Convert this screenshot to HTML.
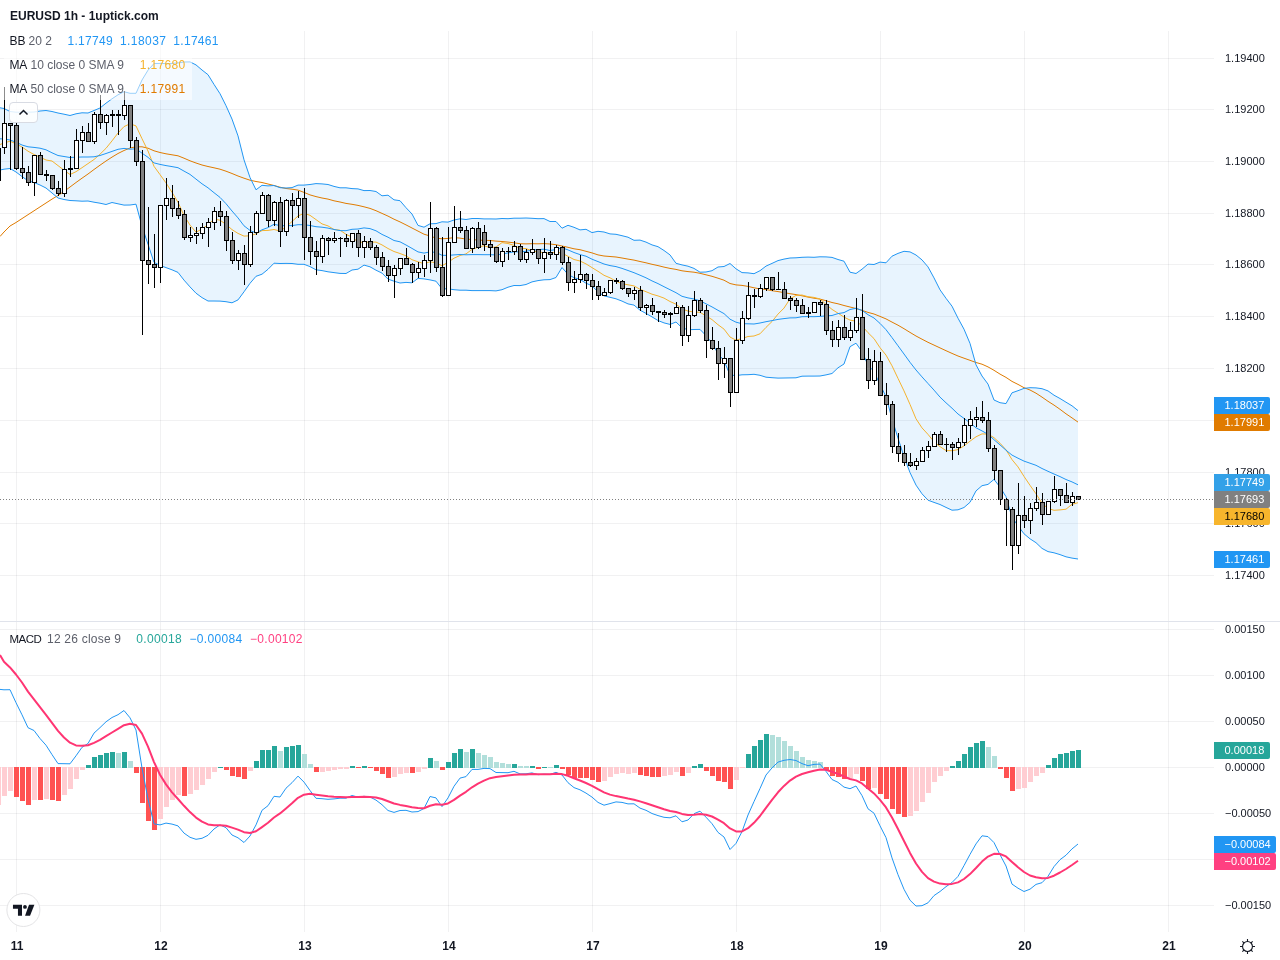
<!DOCTYPE html>
<html><head><meta charset="utf-8"><title>EURUSD 1h</title>
<style>
html,body{margin:0;padding:0;background:#fff;}
body{width:1280px;height:960px;position:relative;overflow:hidden;font-family:"Liberation Sans",sans-serif;color:#131722;}
.axl,.tl,.lab,.lg,#title{will-change:transform}
.axl{position:absolute;left:1224.5px;font-size:11px;line-height:14px;height:14px;color:#131722;white-space:nowrap;}
.lab{position:absolute;left:1214px;height:17px;border-radius:0 2px 2px 0;font-size:11px;line-height:17px;box-sizing:border-box;padding-left:10.5px;white-space:nowrap;}
.tl{position:absolute;top:938px;width:40px;margin-left:-20px;text-align:center;font-size:12px;font-weight:bold;line-height:16px;color:#131722}
.lg{position:absolute;left:4px;height:24px;line-height:24px;font-size:12px;white-space:nowrap;color:#5d606b}
.lg b{font-weight:normal;color:#131722}
.lg span{margin-left:0}
</style></head><body>
<svg width="1280" height="960" viewBox="0 0 1280 960" style="position:absolute;left:0;top:0">
<g shape-rendering="crispEdges" fill="rgba(42,46,57,0.065)">
<rect x="16" y="31" width="1" height="590"/>
<rect x="16" y="622" width="1" height="310"/>
<rect x="160" y="31" width="1" height="590"/>
<rect x="160" y="622" width="1" height="310"/>
<rect x="304" y="31" width="1" height="590"/>
<rect x="304" y="622" width="1" height="310"/>
<rect x="448" y="31" width="1" height="590"/>
<rect x="448" y="622" width="1" height="310"/>
<rect x="592" y="31" width="1" height="590"/>
<rect x="592" y="622" width="1" height="310"/>
<rect x="736" y="31" width="1" height="590"/>
<rect x="736" y="622" width="1" height="310"/>
<rect x="880" y="31" width="1" height="590"/>
<rect x="880" y="622" width="1" height="310"/>
<rect x="1024" y="31" width="1" height="590"/>
<rect x="1024" y="622" width="1" height="310"/>
<rect x="1168" y="31" width="1" height="590"/>
<rect x="1168" y="622" width="1" height="310"/>
<rect x="0" y="58" width="1214" height="1"/>
<rect x="0" y="109" width="1214" height="1"/>
<rect x="0" y="161" width="1214" height="1"/>
<rect x="0" y="213" width="1214" height="1"/>
<rect x="0" y="264" width="1214" height="1"/>
<rect x="0" y="316" width="1214" height="1"/>
<rect x="0" y="368" width="1214" height="1"/>
<rect x="0" y="420" width="1214" height="1"/>
<rect x="0" y="472" width="1214" height="1"/>
<rect x="0" y="523" width="1214" height="1"/>
<rect x="0" y="575" width="1214" height="1"/>
<rect x="0" y="629" width="1214" height="1"/>
<rect x="0" y="675" width="1214" height="1"/>
<rect x="0" y="721" width="1214" height="1"/>
<rect x="0" y="767" width="1214" height="1"/>
<rect x="0" y="813" width="1214" height="1"/>
<rect x="0" y="859" width="1214" height="1"/>
<rect x="0" y="905" width="1214" height="1"/>
</g>
<rect x="0" y="621" width="1280" height="1" fill="#e0e3eb" shape-rendering="crispEdges"/>
<path d="M0.0,107.8 L4.0,108.5 L10.0,111.5 L16.0,112.2 L22.0,112.2 L28.0,112.2 L34.0,112.0 L40.0,111.0 L46.0,110.5 L52.0,111.5 L58.0,113.0 L64.0,114.2 L70.0,115.5 L76.0,113.8 L82.0,112.8 L88.0,113.0 L94.0,110.5 L100.0,108.0 L106.0,103.2 L112.0,98.8 L118.0,94.8 L124.0,91.7 L130.0,93.3 L136.0,93.3 L142.0,80.0 L148.0,70.2 L154.0,63.5 L160.0,63.4 L166.0,63.6 L172.0,63.4 L178.0,62.9 L184.0,62.0 L190.0,61.9 L196.0,64.9 L202.0,70.0 L208.0,74.7 L214.0,84.4 L220.0,93.7 L226.0,105.7 L232.0,119.1 L238.0,135.9 L244.0,159.8 L250.0,177.5 L256.0,189.8 L262.0,185.3 L268.0,185.9 L274.0,185.5 L280.0,187.7 L286.0,188.0 L292.0,187.6 L298.0,185.1 L304.0,185.1 L310.0,184.5 L316.0,183.6 L322.0,183.9 L328.0,184.5 L334.0,186.4 L340.0,187.8 L346.0,187.8 L352.0,188.6 L358.0,188.9 L364.0,190.6 L370.0,190.5 L376.0,191.5 L382.0,195.8 L388.0,195.2 L394.0,199.8 L400.0,200.7 L406.0,207.7 L412.0,214.0 L418.0,225.4 L424.0,227.2 L430.0,223.8 L436.0,223.6 L442.0,221.8 L448.0,222.1 L454.0,220.0 L460.0,218.8 L466.0,219.5 L472.0,218.5 L478.0,218.5 L484.0,218.9 L490.0,218.9 L496.0,219.0 L502.0,218.5 L508.0,218.7 L514.0,218.2 L520.0,218.2 L526.0,218.0 L532.0,218.3 L538.0,218.7 L544.0,218.6 L550.0,221.5 L556.0,221.5 L562.0,228.2 L568.0,225.3 L574.0,227.3 L580.0,229.9 L586.0,229.3 L592.0,232.6 L598.0,231.3 L604.0,232.0 L610.0,233.9 L616.0,234.3 L622.0,235.7 L628.0,237.2 L634.0,240.3 L640.0,240.1 L646.0,242.1 L652.0,244.9 L658.0,246.7 L664.0,250.5 L670.0,254.9 L676.0,263.3 L682.0,264.9 L688.0,266.2 L694.0,268.4 L700.0,272.2 L706.0,272.0 L712.0,270.7 L718.0,267.0 L724.0,266.5 L730.0,263.5 L736.0,268.8 L742.0,272.6 L748.0,272.9 L754.0,273.7 L760.0,270.7 L766.0,266.1 L772.0,263.4 L778.0,260.6 L784.0,259.1 L790.0,258.0 L796.0,257.8 L802.0,257.3 L808.0,257.1 L814.0,257.3 L820.0,256.8 L826.0,256.9 L832.0,257.4 L838.0,259.5 L844.0,261.2 L850.0,272.2 L856.0,273.5 L862.0,269.2 L868.0,264.1 L874.0,264.5 L880.0,262.1 L886.0,262.8 L892.0,256.2 L898.0,253.4 L904.0,251.3 L910.0,251.9 L916.0,255.0 L922.0,259.9 L928.0,266.9 L934.0,277.9 L940.0,289.8 L946.0,298.3 L952.0,306.2 L958.0,318.2 L964.0,329.2 L970.0,343.4 L976.0,364.8 L982.0,376.0 L988.0,384.1 L994.0,400.0 L1000.0,402.7 L1006.0,403.6 L1012.0,392.8 L1018.0,390.7 L1024.0,388.4 L1030.0,387.7 L1036.0,387.9 L1042.0,388.7 L1048.0,390.9 L1054.0,395.2 L1060.0,398.5 L1066.0,402.2 L1072.0,405.8 L1078.0,410.6 L1078.0,559.0 L1072.0,558.1 L1066.0,556.8 L1060.0,554.6 L1054.0,552.8 L1048.0,551.6 L1042.0,548.4 L1036.0,542.7 L1030.0,538.8 L1024.0,533.8 L1018.0,525.7 L1012.0,517.4 L1006.0,496.7 L1000.0,487.1 L994.0,479.4 L988.0,484.4 L982.0,485.7 L976.0,490.9 L970.0,502.3 L964.0,507.5 L958.0,509.8 L952.0,510.2 L946.0,507.4 L940.0,504.5 L934.0,502.4 L928.0,500.2 L922.0,493.8 L916.0,485.1 L910.0,472.6 L904.0,456.6 L898.0,438.2 L892.0,418.9 L886.0,396.6 L880.0,384.6 L874.0,371.5 L868.0,365.2 L862.0,351.6 L856.0,343.2 L850.0,346.7 L844.0,364.0 L838.0,367.8 L832.0,373.5 L826.0,374.9 L820.0,376.0 L814.0,376.1 L808.0,376.1 L802.0,376.2 L796.0,377.8 L790.0,377.9 L784.0,378.0 L778.0,378.1 L772.0,377.7 L766.0,377.2 L760.0,375.3 L754.0,374.3 L748.0,374.7 L742.0,374.8 L736.0,375.6 L730.0,375.0 L724.0,360.7 L718.0,353.6 L712.0,343.1 L706.0,335.6 L700.0,329.4 L694.0,329.5 L688.0,329.7 L682.0,327.8 L676.0,322.0 L670.0,324.4 L664.0,322.9 L658.0,320.5 L652.0,316.9 L646.0,313.4 L640.0,310.2 L634.0,305.1 L628.0,303.9 L622.0,301.1 L616.0,298.8 L610.0,297.3 L604.0,295.9 L598.0,291.9 L592.0,285.8 L586.0,283.2 L580.0,279.4 L574.0,277.7 L568.0,274.4 L562.0,267.5 L556.0,277.5 L550.0,279.6 L544.0,279.8 L538.0,280.6 L532.0,281.9 L526.0,284.5 L520.0,285.6 L514.0,285.5 L508.0,287.2 L502.0,289.7 L496.0,290.9 L490.0,290.6 L484.0,290.6 L478.0,290.6 L472.0,290.6 L466.0,290.2 L460.0,290.2 L454.0,289.7 L448.0,288.8 L442.0,288.8 L436.0,281.2 L430.0,279.9 L424.0,278.9 L418.0,278.4 L412.0,282.8 L406.0,282.4 L400.0,283.0 L394.0,281.2 L388.0,279.1 L382.0,273.1 L376.0,270.2 L370.0,266.8 L364.0,265.1 L358.0,269.2 L352.0,270.0 L346.0,273.5 L340.0,273.4 L334.0,272.6 L328.0,271.8 L322.0,270.6 L316.0,269.8 L310.0,266.6 L304.0,264.3 L298.0,264.3 L292.0,263.5 L286.0,263.4 L280.0,263.5 L274.0,263.2 L268.0,269.3 L262.0,274.2 L256.0,276.3 L250.0,283.3 L244.0,291.8 L238.0,299.9 L232.0,302.8 L226.0,301.7 L220.0,301.1 L214.0,301.0 L208.0,301.0 L202.0,297.6 L196.0,293.2 L190.0,286.9 L184.0,280.1 L178.0,272.4 L172.0,269.8 L166.0,267.6 L160.0,265.4 L154.0,262.3 L148.0,244.3 L142.0,226.3 L136.0,204.2 L130.0,205.0 L124.0,205.1 L118.0,203.8 L112.0,202.5 L106.0,204.5 L100.0,203.2 L94.0,202.2 L88.0,201.0 L82.0,201.2 L76.0,200.8 L70.0,200.5 L64.0,199.5 L58.0,198.0 L52.0,193.0 L46.0,188.0 L40.0,185.0 L34.0,182.5 L28.0,180.8 L22.0,176.5 L16.0,172.0 L10.0,168.5 L4.0,169.2 L0.0,170.0Z" fill="rgba(33,150,243,0.1)"/>
<path d="M0.0,236.5 L4.0,232.0 L10.0,226.0 L16.0,222.5 L22.0,218.6 L28.0,214.7 L34.0,210.8 L40.0,206.9 L46.0,203.0 L52.0,199.1 L58.0,195.5 L64.0,191.5 L70.0,187.0 L76.0,182.5 L82.0,178.2 L88.0,174.0 L94.0,169.5 L100.0,165.2 L106.0,161.0 L112.0,157.1 L118.0,153.5 L124.0,150.5 L130.0,148.0 L136.0,146.8 L142.0,146.8 L148.0,148.2 L154.0,150.8 L160.0,152.5 L166.0,153.8 L172.0,154.8 L178.0,155.8 L184.0,158.2 L190.0,160.8 L196.0,163.0 L202.0,165.0 L208.0,166.5 L214.0,167.8 L220.0,169.2 L226.0,171.2 L232.0,173.5 L238.0,176.0 L244.0,178.2 L250.0,180.2 L256.0,181.5 L262.0,182.5 L268.0,184.0 L274.0,185.5 L280.0,187.2 L286.0,188.5 L292.0,189.2 L298.0,190.1 L304.0,192.4 L310.0,194.9 L316.0,196.6 L322.0,198.0 L328.0,199.1 L334.0,200.8 L340.0,202.0 L346.0,203.4 L352.0,204.3 L358.0,205.4 L364.0,206.8 L370.0,208.4 L376.0,210.7 L382.0,213.4 L388.0,216.1 L394.0,219.2 L400.0,221.9 L406.0,224.9 L412.0,228.0 L418.0,231.1 L424.0,234.2 L430.0,236.0 L436.0,238.1 L442.0,238.8 L448.0,238.4 L454.0,237.6 L460.0,238.1 L466.0,239.1 L472.0,239.5 L478.0,240.1 L484.0,240.3 L490.0,240.5 L496.0,241.1 L502.0,241.5 L508.0,242.1 L514.0,242.8 L520.0,243.7 L526.0,243.9 L532.0,243.7 L538.0,243.8 L544.0,243.6 L550.0,244.0 L556.0,244.7 L562.0,246.0 L568.0,247.3 L574.0,248.8 L580.0,249.7 L586.0,251.3 L592.0,252.9 L598.0,254.9 L604.0,256.0 L610.0,256.5 L616.0,257.0 L622.0,258.0 L628.0,259.1 L634.0,260.1 L640.0,261.5 L646.0,262.8 L652.0,264.3 L658.0,265.6 L664.0,267.1 L670.0,268.4 L676.0,269.4 L682.0,270.8 L688.0,271.6 L694.0,272.2 L700.0,273.3 L706.0,274.8 L712.0,276.3 L718.0,278.2 L724.0,280.2 L730.0,283.5 L736.0,284.9 L742.0,285.4 L748.0,286.4 L754.0,287.8 L760.0,288.9 L766.0,289.5 L772.0,290.7 L778.0,291.6 L784.0,292.6 L790.0,293.7 L796.0,294.6 L802.0,295.8 L808.0,297.1 L814.0,298.2 L820.0,299.1 L826.0,300.7 L832.0,302.5 L838.0,303.8 L844.0,305.5 L850.0,307.0 L856.0,308.5 L862.0,310.4 L868.0,312.4 L874.0,314.0 L880.0,316.4 L886.0,318.9 L892.0,322.1 L898.0,325.2 L904.0,328.7 L910.0,332.4 L916.0,336.0 L922.0,339.2 L928.0,342.3 L934.0,345.1 L940.0,347.9 L946.0,350.7 L952.0,353.4 L958.0,356.0 L964.0,358.2 L970.0,360.3 L976.0,362.5 L982.0,364.2 L988.0,366.9 L994.0,370.3 L1000.0,374.1 L1006.0,377.4 L1012.0,381.4 L1018.0,384.4 L1024.0,387.7 L1030.0,390.0 L1036.0,393.2 L1042.0,397.1 L1048.0,401.3 L1054.0,405.1 L1060.0,409.3 L1066.0,413.8 L1072.0,417.9 L1078.0,422.1" fill="none" stroke="#e07b00" stroke-width="1"/>
<path d="M0.0,144.5 L4.0,143.0 L10.0,141.2 L16.0,143.8 L22.0,147.0 L28.0,151.2 L34.0,154.5 L40.0,157.0 L46.0,160.0 L52.0,161.0 L58.0,165.6 L64.0,170.2 L70.0,174.5 L76.0,171.7 L82.0,167.7 L88.0,163.6 L94.0,159.5 L100.0,154.2 L106.0,148.3 L112.0,140.9 L118.0,133.0 L124.0,126.6 L130.0,123.8 L136.0,125.9 L142.0,138.7 L148.0,151.0 L154.0,166.3 L160.0,174.6 L166.0,182.9 L172.0,192.3 L178.0,202.3 L184.0,215.5 L190.0,225.1 L196.0,232.2 L202.0,229.0 L208.0,224.7 L214.0,219.1 L220.0,220.2 L226.0,224.4 L232.0,229.6 L238.0,233.4 L244.0,236.1 L250.0,235.8 L256.0,233.8 L262.0,230.6 L268.0,230.4 L274.0,229.5 L280.0,231.0 L286.0,227.0 L292.0,221.5 L298.0,216.0 L304.0,213.3 L310.0,215.3 L316.0,219.6 L322.0,223.9 L328.0,225.9 L334.0,229.5 L340.0,230.2 L346.0,234.3 L352.0,237.1 L358.0,242.0 L364.0,242.4 L370.0,242.0 L376.0,242.1 L382.0,244.9 L388.0,248.5 L394.0,251.5 L400.0,253.5 L406.0,255.8 L412.0,259.7 L418.0,261.8 L424.0,263.7 L430.0,261.8 L436.0,262.8 L442.0,265.7 L448.0,262.4 L454.0,258.2 L460.0,255.5 L466.0,253.9 L472.0,249.4 L478.0,247.3 L484.0,245.7 L490.0,247.7 L496.0,247.0 L502.0,242.6 L508.0,243.5 L514.0,245.4 L520.0,248.3 L526.0,248.6 L532.0,250.8 L538.0,251.9 L544.0,252.7 L550.0,253.4 L556.0,252.0 L562.0,253.1 L568.0,256.3 L574.0,259.5 L580.0,261.0 L586.0,263.9 L592.0,267.6 L598.0,271.3 L604.0,275.3 L610.0,277.8 L616.0,281.2 L622.0,283.7 L628.0,284.8 L634.0,285.9 L640.0,289.3 L646.0,291.7 L652.0,294.2 L658.0,295.9 L664.0,298.1 L670.0,301.5 L676.0,304.2 L682.0,308.9 L688.0,311.1 L694.0,312.0 L700.0,312.3 L706.0,315.9 L712.0,319.6 L718.0,324.7 L724.0,329.1 L730.0,337.0 L736.0,340.2 L742.0,338.5 L748.0,336.5 L754.0,336.0 L760.0,333.8 L766.0,327.4 L772.0,321.5 L778.0,314.1 L784.0,308.1 L790.0,298.9 L796.0,295.4 L802.0,295.0 L808.0,296.7 L814.0,297.4 L820.0,299.0 L826.0,304.4 L832.0,309.4 L838.0,313.2 L844.0,317.1 L850.0,320.1 L856.0,321.2 L862.0,325.8 L868.0,332.7 L874.0,338.6 L880.0,347.7 L886.0,355.1 L892.0,365.8 L898.0,378.4 L904.0,390.9 L910.0,404.4 L916.0,418.8 L922.0,427.9 L928.0,434.4 L934.0,441.7 L940.0,446.6 L946.0,450.6 L952.0,450.7 L958.0,449.6 L964.0,445.9 L970.0,441.2 L976.0,436.8 L982.0,433.9 L988.0,434.1 L994.0,437.7 L1000.0,443.2 L1006.0,449.8 L1012.0,459.6 L1018.0,466.9 L1024.0,476.4 L1030.0,485.3 L1036.0,493.8 L1042.0,503.2 L1048.0,508.4 L1054.0,510.3 L1060.0,509.9 L1066.0,509.2 L1072.0,504.3 L1078.0,502.7" fill="none" stroke="#f5b32e" stroke-width="1"/>
<path d="M0.0,107.8 L4.0,108.5 L10.0,111.5 L16.0,112.2 L22.0,112.2 L28.0,112.2 L34.0,112.0 L40.0,111.0 L46.0,110.5 L52.0,111.5 L58.0,113.0 L64.0,114.2 L70.0,115.5 L76.0,113.8 L82.0,112.8 L88.0,113.0 L94.0,110.5 L100.0,108.0 L106.0,103.2 L112.0,98.8 L118.0,94.8 L124.0,91.7 L130.0,93.3 L136.0,93.3 L142.0,80.0 L148.0,70.2 L154.0,63.5 L160.0,63.4 L166.0,63.6 L172.0,63.4 L178.0,62.9 L184.0,62.0 L190.0,61.9 L196.0,64.9 L202.0,70.0 L208.0,74.7 L214.0,84.4 L220.0,93.7 L226.0,105.7 L232.0,119.1 L238.0,135.9 L244.0,159.8 L250.0,177.5 L256.0,189.8 L262.0,185.3 L268.0,185.9 L274.0,185.5 L280.0,187.7 L286.0,188.0 L292.0,187.6 L298.0,185.1 L304.0,185.1 L310.0,184.5 L316.0,183.6 L322.0,183.9 L328.0,184.5 L334.0,186.4 L340.0,187.8 L346.0,187.8 L352.0,188.6 L358.0,188.9 L364.0,190.6 L370.0,190.5 L376.0,191.5 L382.0,195.8 L388.0,195.2 L394.0,199.8 L400.0,200.7 L406.0,207.7 L412.0,214.0 L418.0,225.4 L424.0,227.2 L430.0,223.8 L436.0,223.6 L442.0,221.8 L448.0,222.1 L454.0,220.0 L460.0,218.8 L466.0,219.5 L472.0,218.5 L478.0,218.5 L484.0,218.9 L490.0,218.9 L496.0,219.0 L502.0,218.5 L508.0,218.7 L514.0,218.2 L520.0,218.2 L526.0,218.0 L532.0,218.3 L538.0,218.7 L544.0,218.6 L550.0,221.5 L556.0,221.5 L562.0,228.2 L568.0,225.3 L574.0,227.3 L580.0,229.9 L586.0,229.3 L592.0,232.6 L598.0,231.3 L604.0,232.0 L610.0,233.9 L616.0,234.3 L622.0,235.7 L628.0,237.2 L634.0,240.3 L640.0,240.1 L646.0,242.1 L652.0,244.9 L658.0,246.7 L664.0,250.5 L670.0,254.9 L676.0,263.3 L682.0,264.9 L688.0,266.2 L694.0,268.4 L700.0,272.2 L706.0,272.0 L712.0,270.7 L718.0,267.0 L724.0,266.5 L730.0,263.5 L736.0,268.8 L742.0,272.6 L748.0,272.9 L754.0,273.7 L760.0,270.7 L766.0,266.1 L772.0,263.4 L778.0,260.6 L784.0,259.1 L790.0,258.0 L796.0,257.8 L802.0,257.3 L808.0,257.1 L814.0,257.3 L820.0,256.8 L826.0,256.9 L832.0,257.4 L838.0,259.5 L844.0,261.2 L850.0,272.2 L856.0,273.5 L862.0,269.2 L868.0,264.1 L874.0,264.5 L880.0,262.1 L886.0,262.8 L892.0,256.2 L898.0,253.4 L904.0,251.3 L910.0,251.9 L916.0,255.0 L922.0,259.9 L928.0,266.9 L934.0,277.9 L940.0,289.8 L946.0,298.3 L952.0,306.2 L958.0,318.2 L964.0,329.2 L970.0,343.4 L976.0,364.8 L982.0,376.0 L988.0,384.1 L994.0,400.0 L1000.0,402.7 L1006.0,403.6 L1012.0,392.8 L1018.0,390.7 L1024.0,388.4 L1030.0,387.7 L1036.0,387.9 L1042.0,388.7 L1048.0,390.9 L1054.0,395.2 L1060.0,398.5 L1066.0,402.2 L1072.0,405.8 L1078.0,410.6" fill="none" stroke="#2196f3" stroke-width="1"/>
<path d="M0.0,170.0 L4.0,169.2 L10.0,168.5 L16.0,172.0 L22.0,176.5 L28.0,180.8 L34.0,182.5 L40.0,185.0 L46.0,188.0 L52.0,193.0 L58.0,198.0 L64.0,199.5 L70.0,200.5 L76.0,200.8 L82.0,201.2 L88.0,201.0 L94.0,202.2 L100.0,203.2 L106.0,204.5 L112.0,202.5 L118.0,203.8 L124.0,205.1 L130.0,205.0 L136.0,204.2 L142.0,226.3 L148.0,244.3 L154.0,262.3 L160.0,265.4 L166.0,267.6 L172.0,269.8 L178.0,272.4 L184.0,280.1 L190.0,286.9 L196.0,293.2 L202.0,297.6 L208.0,301.0 L214.0,301.0 L220.0,301.1 L226.0,301.7 L232.0,302.8 L238.0,299.9 L244.0,291.8 L250.0,283.3 L256.0,276.3 L262.0,274.2 L268.0,269.3 L274.0,263.2 L280.0,263.5 L286.0,263.4 L292.0,263.5 L298.0,264.3 L304.0,264.3 L310.0,266.6 L316.0,269.8 L322.0,270.6 L328.0,271.8 L334.0,272.6 L340.0,273.4 L346.0,273.5 L352.0,270.0 L358.0,269.2 L364.0,265.1 L370.0,266.8 L376.0,270.2 L382.0,273.1 L388.0,279.1 L394.0,281.2 L400.0,283.0 L406.0,282.4 L412.0,282.8 L418.0,278.4 L424.0,278.9 L430.0,279.9 L436.0,281.2 L442.0,288.8 L448.0,288.8 L454.0,289.7 L460.0,290.2 L466.0,290.2 L472.0,290.6 L478.0,290.6 L484.0,290.6 L490.0,290.6 L496.0,290.9 L502.0,289.7 L508.0,287.2 L514.0,285.5 L520.0,285.6 L526.0,284.5 L532.0,281.9 L538.0,280.6 L544.0,279.8 L550.0,279.6 L556.0,277.5 L562.0,267.5 L568.0,274.4 L574.0,277.7 L580.0,279.4 L586.0,283.2 L592.0,285.8 L598.0,291.9 L604.0,295.9 L610.0,297.3 L616.0,298.8 L622.0,301.1 L628.0,303.9 L634.0,305.1 L640.0,310.2 L646.0,313.4 L652.0,316.9 L658.0,320.5 L664.0,322.9 L670.0,324.4 L676.0,322.0 L682.0,327.8 L688.0,329.7 L694.0,329.5 L700.0,329.4 L706.0,335.6 L712.0,343.1 L718.0,353.6 L724.0,360.7 L730.0,375.0 L736.0,375.6 L742.0,374.8 L748.0,374.7 L754.0,374.3 L760.0,375.3 L766.0,377.2 L772.0,377.7 L778.0,378.1 L784.0,378.0 L790.0,377.9 L796.0,377.8 L802.0,376.2 L808.0,376.1 L814.0,376.1 L820.0,376.0 L826.0,374.9 L832.0,373.5 L838.0,367.8 L844.0,364.0 L850.0,346.7 L856.0,343.2 L862.0,351.6 L868.0,365.2 L874.0,371.5 L880.0,384.6 L886.0,396.6 L892.0,418.9 L898.0,438.2 L904.0,456.6 L910.0,472.6 L916.0,485.1 L922.0,493.8 L928.0,500.2 L934.0,502.4 L940.0,504.5 L946.0,507.4 L952.0,510.2 L958.0,509.8 L964.0,507.5 L970.0,502.3 L976.0,490.9 L982.0,485.7 L988.0,484.4 L994.0,479.4 L1000.0,487.1 L1006.0,496.7 L1012.0,517.4 L1018.0,525.7 L1024.0,533.8 L1030.0,538.8 L1036.0,542.7 L1042.0,548.4 L1048.0,551.6 L1054.0,552.8 L1060.0,554.6 L1066.0,556.8 L1072.0,558.1 L1078.0,559.0" fill="none" stroke="#2196f3" stroke-width="1"/>
<path d="M0.0,138.8 L4.0,139.0 L10.0,140.0 L16.0,142.2 L22.0,145.0 L28.0,146.8 L34.0,147.4 L40.0,148.2 L46.0,149.8 L52.0,152.8 L58.0,155.5 L64.0,156.5 L70.0,157.5 L76.0,157.2 L82.0,157.0 L88.0,157.0 L94.0,156.8 L100.0,155.5 L106.0,153.5 L112.0,151.4 L118.0,149.3 L124.0,148.4 L130.0,149.2 L136.0,148.8 L142.0,153.2 L148.0,157.3 L154.0,162.9 L160.0,164.4 L166.0,165.6 L172.0,166.6 L178.0,167.7 L184.0,171.1 L190.0,174.4 L196.0,179.1 L202.0,183.8 L208.0,187.8 L214.0,192.7 L220.0,197.4 L226.0,203.7 L232.0,211.0 L238.0,217.9 L244.0,225.8 L250.0,230.4 L256.0,233.0 L262.0,229.8 L268.0,227.6 L274.0,224.3 L280.0,225.6 L286.0,225.7 L292.0,225.6 L298.0,224.7 L304.0,224.7 L310.0,225.5 L316.0,226.7 L322.0,227.2 L328.0,228.1 L334.0,229.5 L340.0,230.6 L346.0,230.7 L352.0,229.3 L358.0,229.0 L364.0,227.9 L370.0,228.6 L376.0,230.8 L382.0,234.4 L388.0,237.2 L394.0,240.5 L400.0,241.8 L406.0,245.0 L412.0,248.4 L418.0,251.9 L424.0,253.1 L430.0,251.9 L436.0,252.4 L442.0,255.3 L448.0,255.4 L454.0,254.9 L460.0,254.5 L466.0,254.8 L472.0,254.6 L478.0,254.6 L484.0,254.7 L490.0,254.7 L496.0,254.9 L502.0,254.1 L508.0,252.9 L514.0,251.8 L520.0,251.9 L526.0,251.3 L532.0,250.1 L538.0,249.6 L544.0,249.2 L550.0,250.5 L556.0,249.5 L562.0,247.8 L568.0,249.9 L574.0,252.5 L580.0,254.6 L586.0,256.2 L592.0,259.2 L598.0,261.6 L604.0,264.0 L610.0,265.6 L616.0,266.6 L622.0,268.4 L628.0,270.5 L634.0,272.7 L640.0,275.2 L646.0,277.8 L652.0,280.9 L658.0,283.6 L664.0,286.7 L670.0,289.7 L676.0,292.7 L682.0,296.3 L688.0,297.9 L694.0,299.0 L700.0,300.8 L706.0,303.8 L712.0,306.9 L718.0,310.3 L724.0,313.6 L730.0,319.2 L736.0,322.2 L742.0,323.7 L748.0,323.8 L754.0,324.0 L760.0,323.0 L766.0,321.7 L772.0,320.6 L778.0,319.4 L784.0,318.6 L790.0,317.9 L796.0,317.8 L802.0,316.7 L808.0,316.6 L814.0,316.7 L820.0,316.4 L826.0,315.9 L832.0,315.5 L838.0,313.6 L844.0,312.6 L850.0,309.5 L856.0,308.3 L862.0,310.4 L868.0,314.7 L874.0,318.0 L880.0,323.4 L886.0,329.7 L892.0,337.6 L898.0,345.8 L904.0,354.0 L910.0,362.3 L916.0,370.0 L922.0,376.9 L928.0,383.5 L934.0,390.1 L940.0,397.1 L946.0,402.8 L952.0,408.2 L958.0,414.0 L964.0,418.4 L970.0,422.8 L976.0,427.8 L982.0,430.9 L988.0,434.3 L994.0,439.7 L1000.0,444.9 L1006.0,450.2 L1012.0,455.1 L1018.0,458.2 L1024.0,461.1 L1030.0,463.2 L1036.0,465.3 L1042.0,468.5 L1048.0,471.3 L1054.0,474.0 L1060.0,476.6 L1066.0,479.5 L1072.0,481.9 L1078.0,484.8" fill="none" stroke="#2196f3" stroke-width="1"/>
<g shape-rendering="crispEdges">
<rect x="0" y="148" width="1" height="33" fill="#000"/>
<rect x="4" y="87" width="1" height="67" fill="#000"/>
<rect x="2" y="123" width="5" height="25" fill="#000"/>
<rect x="3" y="124" width="3" height="23" fill="#fff"/>
<rect x="10" y="123" width="1" height="47" fill="#000"/>
<rect x="8" y="123" width="5" height="3" fill="#000"/>
<rect x="9" y="124" width="3" height="1" fill="#808080"/>
<rect x="16" y="123" width="1" height="47" fill="#000"/>
<rect x="14" y="125" width="5" height="44" fill="#000"/>
<rect x="15" y="126" width="3" height="42" fill="#808080"/>
<rect x="22" y="147" width="1" height="32" fill="#000"/>
<rect x="20" y="168" width="5" height="5" fill="#000"/>
<rect x="21" y="169" width="3" height="3" fill="#808080"/>
<rect x="28" y="166" width="1" height="20" fill="#000"/>
<rect x="26" y="172" width="5" height="11" fill="#000"/>
<rect x="27" y="173" width="3" height="9" fill="#808080"/>
<rect x="34" y="155" width="1" height="41" fill="#000"/>
<rect x="32" y="155" width="5" height="28" fill="#000"/>
<rect x="33" y="156" width="3" height="26" fill="#fff"/>
<rect x="40" y="152" width="1" height="23" fill="#000"/>
<rect x="38" y="155" width="5" height="20" fill="#000"/>
<rect x="39" y="156" width="3" height="18" fill="#808080"/>
<rect x="46" y="170" width="1" height="11" fill="#000"/>
<rect x="44" y="174" width="5" height="2" fill="#000"/>
<rect x="52" y="175" width="1" height="15" fill="#000"/>
<rect x="50" y="175" width="5" height="14" fill="#000"/>
<rect x="51" y="176" width="3" height="12" fill="#808080"/>
<rect x="58" y="181" width="1" height="15" fill="#000"/>
<rect x="56" y="188" width="5" height="6" fill="#000"/>
<rect x="57" y="189" width="3" height="4" fill="#808080"/>
<rect x="64" y="160" width="1" height="37" fill="#000"/>
<rect x="62" y="169" width="5" height="25" fill="#000"/>
<rect x="63" y="170" width="3" height="23" fill="#fff"/>
<rect x="70" y="156" width="1" height="21" fill="#000"/>
<rect x="68" y="168" width="5" height="2" fill="#000"/>
<rect x="76" y="129" width="1" height="40" fill="#000"/>
<rect x="74" y="140" width="5" height="29" fill="#000"/>
<rect x="75" y="141" width="3" height="27" fill="#fff"/>
<rect x="82" y="126" width="1" height="27" fill="#000"/>
<rect x="80" y="132" width="5" height="9" fill="#000"/>
<rect x="81" y="133" width="3" height="7" fill="#fff"/>
<rect x="88" y="123" width="1" height="19" fill="#000"/>
<rect x="86" y="132" width="5" height="10" fill="#000"/>
<rect x="87" y="133" width="3" height="8" fill="#808080"/>
<rect x="94" y="112" width="1" height="32" fill="#000"/>
<rect x="92" y="114" width="5" height="28" fill="#000"/>
<rect x="93" y="115" width="3" height="26" fill="#fff"/>
<rect x="100" y="95" width="1" height="34" fill="#000"/>
<rect x="98" y="114" width="5" height="9" fill="#000"/>
<rect x="99" y="115" width="3" height="7" fill="#808080"/>
<rect x="106" y="114" width="1" height="21" fill="#000"/>
<rect x="104" y="115" width="5" height="8" fill="#000"/>
<rect x="105" y="116" width="3" height="6" fill="#fff"/>
<rect x="112" y="110" width="1" height="17" fill="#000"/>
<rect x="110" y="114" width="5" height="2" fill="#000"/>
<rect x="118" y="110" width="1" height="25" fill="#000"/>
<rect x="116" y="114" width="5" height="2" fill="#000"/>
<rect x="124" y="91" width="1" height="29" fill="#000"/>
<rect x="122" y="105" width="5" height="11" fill="#000"/>
<rect x="123" y="106" width="3" height="9" fill="#fff"/>
<rect x="130" y="105" width="1" height="43" fill="#000"/>
<rect x="128" y="105" width="5" height="36" fill="#000"/>
<rect x="129" y="106" width="3" height="34" fill="#808080"/>
<rect x="136" y="137" width="1" height="29" fill="#000"/>
<rect x="134" y="140" width="5" height="22" fill="#000"/>
<rect x="135" y="141" width="3" height="20" fill="#808080"/>
<rect x="142" y="150" width="1" height="185" fill="#000"/>
<rect x="140" y="161" width="5" height="100" fill="#000"/>
<rect x="141" y="162" width="3" height="98" fill="#808080"/>
<rect x="148" y="207" width="1" height="77" fill="#000"/>
<rect x="146" y="260" width="5" height="5" fill="#000"/>
<rect x="147" y="261" width="3" height="3" fill="#808080"/>
<rect x="154" y="234" width="1" height="54" fill="#000"/>
<rect x="152" y="264" width="5" height="4" fill="#000"/>
<rect x="153" y="265" width="3" height="2" fill="#808080"/>
<rect x="160" y="205" width="1" height="78" fill="#000"/>
<rect x="158" y="205" width="5" height="63" fill="#000"/>
<rect x="159" y="206" width="3" height="61" fill="#fff"/>
<rect x="166" y="178" width="1" height="42" fill="#000"/>
<rect x="164" y="198" width="5" height="8" fill="#000"/>
<rect x="165" y="199" width="3" height="6" fill="#fff"/>
<rect x="172" y="185" width="1" height="32" fill="#000"/>
<rect x="170" y="198" width="5" height="11" fill="#000"/>
<rect x="171" y="199" width="3" height="9" fill="#808080"/>
<rect x="178" y="201" width="1" height="18" fill="#000"/>
<rect x="176" y="208" width="5" height="8" fill="#000"/>
<rect x="177" y="209" width="3" height="6" fill="#808080"/>
<rect x="184" y="210" width="1" height="30" fill="#000"/>
<rect x="182" y="214" width="5" height="24" fill="#000"/>
<rect x="183" y="215" width="3" height="22" fill="#808080"/>
<rect x="190" y="227" width="1" height="15" fill="#000"/>
<rect x="188" y="235" width="5" height="3" fill="#000"/>
<rect x="189" y="236" width="3" height="1" fill="#fff"/>
<rect x="196" y="227" width="1" height="17" fill="#000"/>
<rect x="194" y="233" width="5" height="3" fill="#000"/>
<rect x="195" y="234" width="3" height="1" fill="#fff"/>
<rect x="202" y="223" width="1" height="16" fill="#000"/>
<rect x="200" y="227" width="5" height="7" fill="#000"/>
<rect x="201" y="228" width="3" height="5" fill="#fff"/>
<rect x="208" y="218" width="1" height="29" fill="#000"/>
<rect x="206" y="222" width="5" height="6" fill="#000"/>
<rect x="207" y="223" width="3" height="4" fill="#fff"/>
<rect x="214" y="207" width="1" height="23" fill="#000"/>
<rect x="212" y="211" width="5" height="12" fill="#000"/>
<rect x="213" y="212" width="3" height="10" fill="#fff"/>
<rect x="220" y="201" width="1" height="25" fill="#000"/>
<rect x="218" y="211" width="5" height="6" fill="#000"/>
<rect x="219" y="212" width="3" height="4" fill="#808080"/>
<rect x="226" y="211" width="1" height="40" fill="#000"/>
<rect x="224" y="216" width="5" height="25" fill="#000"/>
<rect x="225" y="217" width="3" height="23" fill="#808080"/>
<rect x="232" y="232" width="1" height="32" fill="#000"/>
<rect x="230" y="240" width="5" height="21" fill="#000"/>
<rect x="231" y="241" width="3" height="19" fill="#808080"/>
<rect x="238" y="250" width="1" height="20" fill="#000"/>
<rect x="236" y="253" width="5" height="8" fill="#000"/>
<rect x="237" y="254" width="3" height="6" fill="#fff"/>
<rect x="244" y="245" width="1" height="40" fill="#000"/>
<rect x="242" y="253" width="5" height="12" fill="#000"/>
<rect x="243" y="254" width="3" height="10" fill="#808080"/>
<rect x="250" y="226" width="1" height="41" fill="#000"/>
<rect x="248" y="232" width="5" height="33" fill="#000"/>
<rect x="249" y="233" width="3" height="31" fill="#fff"/>
<rect x="256" y="211" width="1" height="24" fill="#000"/>
<rect x="254" y="213" width="5" height="20" fill="#000"/>
<rect x="255" y="214" width="3" height="18" fill="#fff"/>
<rect x="262" y="192" width="1" height="22" fill="#000"/>
<rect x="260" y="195" width="5" height="19" fill="#000"/>
<rect x="261" y="196" width="3" height="17" fill="#fff"/>
<rect x="268" y="194" width="1" height="33" fill="#000"/>
<rect x="266" y="195" width="5" height="26" fill="#000"/>
<rect x="267" y="196" width="3" height="24" fill="#808080"/>
<rect x="274" y="201" width="1" height="25" fill="#000"/>
<rect x="272" y="202" width="5" height="19" fill="#000"/>
<rect x="273" y="203" width="3" height="17" fill="#fff"/>
<rect x="280" y="197" width="1" height="50" fill="#000"/>
<rect x="278" y="202" width="5" height="30" fill="#000"/>
<rect x="279" y="203" width="3" height="28" fill="#808080"/>
<rect x="286" y="199" width="1" height="37" fill="#000"/>
<rect x="284" y="200" width="5" height="32" fill="#000"/>
<rect x="285" y="201" width="3" height="30" fill="#fff"/>
<rect x="292" y="193" width="1" height="34" fill="#000"/>
<rect x="290" y="200" width="5" height="6" fill="#000"/>
<rect x="291" y="201" width="3" height="4" fill="#808080"/>
<rect x="298" y="191" width="1" height="27" fill="#000"/>
<rect x="296" y="198" width="5" height="8" fill="#000"/>
<rect x="297" y="199" width="3" height="6" fill="#fff"/>
<rect x="304" y="188" width="1" height="72" fill="#000"/>
<rect x="302" y="198" width="5" height="40" fill="#000"/>
<rect x="303" y="199" width="3" height="38" fill="#808080"/>
<rect x="310" y="221" width="1" height="44" fill="#000"/>
<rect x="308" y="237" width="5" height="15" fill="#000"/>
<rect x="309" y="238" width="3" height="13" fill="#808080"/>
<rect x="316" y="241" width="1" height="34" fill="#000"/>
<rect x="314" y="251" width="5" height="6" fill="#000"/>
<rect x="315" y="252" width="3" height="4" fill="#808080"/>
<rect x="322" y="235" width="1" height="28" fill="#000"/>
<rect x="320" y="238" width="5" height="19" fill="#000"/>
<rect x="321" y="239" width="3" height="17" fill="#fff"/>
<rect x="328" y="237" width="1" height="18" fill="#000"/>
<rect x="326" y="238" width="5" height="3" fill="#000"/>
<rect x="327" y="239" width="3" height="1" fill="#808080"/>
<rect x="334" y="232" width="1" height="11" fill="#000"/>
<rect x="332" y="238" width="5" height="3" fill="#000"/>
<rect x="333" y="239" width="3" height="1" fill="#fff"/>
<rect x="340" y="237" width="1" height="20" fill="#000"/>
<rect x="338" y="238" width="5" height="1" fill="#000"/>
<rect x="346" y="234" width="1" height="13" fill="#000"/>
<rect x="344" y="238" width="5" height="4" fill="#000"/>
<rect x="345" y="239" width="3" height="2" fill="#808080"/>
<rect x="352" y="233" width="1" height="15" fill="#000"/>
<rect x="350" y="233" width="5" height="9" fill="#000"/>
<rect x="351" y="234" width="3" height="7" fill="#fff"/>
<rect x="358" y="230" width="1" height="27" fill="#000"/>
<rect x="356" y="233" width="5" height="15" fill="#000"/>
<rect x="357" y="234" width="3" height="13" fill="#808080"/>
<rect x="364" y="236" width="1" height="22" fill="#000"/>
<rect x="362" y="241" width="5" height="7" fill="#000"/>
<rect x="363" y="242" width="3" height="5" fill="#fff"/>
<rect x="370" y="238" width="1" height="12" fill="#000"/>
<rect x="368" y="241" width="5" height="7" fill="#000"/>
<rect x="369" y="242" width="3" height="5" fill="#808080"/>
<rect x="376" y="245" width="1" height="20" fill="#000"/>
<rect x="374" y="247" width="5" height="11" fill="#000"/>
<rect x="375" y="248" width="3" height="9" fill="#808080"/>
<rect x="382" y="252" width="1" height="19" fill="#000"/>
<rect x="380" y="257" width="5" height="10" fill="#000"/>
<rect x="381" y="258" width="3" height="8" fill="#808080"/>
<rect x="388" y="260" width="1" height="22" fill="#000"/>
<rect x="386" y="266" width="5" height="10" fill="#000"/>
<rect x="387" y="267" width="3" height="8" fill="#808080"/>
<rect x="394" y="265" width="1" height="33" fill="#000"/>
<rect x="392" y="268" width="5" height="8" fill="#000"/>
<rect x="393" y="269" width="3" height="6" fill="#fff"/>
<rect x="400" y="258" width="1" height="17" fill="#000"/>
<rect x="398" y="258" width="5" height="11" fill="#000"/>
<rect x="399" y="259" width="3" height="9" fill="#fff"/>
<rect x="406" y="248" width="1" height="17" fill="#000"/>
<rect x="404" y="258" width="5" height="7" fill="#000"/>
<rect x="405" y="259" width="3" height="5" fill="#808080"/>
<rect x="412" y="263" width="1" height="20" fill="#000"/>
<rect x="410" y="264" width="5" height="9" fill="#000"/>
<rect x="411" y="265" width="3" height="7" fill="#808080"/>
<rect x="418" y="262" width="1" height="16" fill="#000"/>
<rect x="416" y="268" width="5" height="5" fill="#000"/>
<rect x="417" y="269" width="3" height="3" fill="#fff"/>
<rect x="424" y="255" width="1" height="22" fill="#000"/>
<rect x="422" y="260" width="5" height="9" fill="#000"/>
<rect x="423" y="261" width="3" height="7" fill="#fff"/>
<rect x="430" y="202" width="1" height="71" fill="#000"/>
<rect x="428" y="228" width="5" height="33" fill="#000"/>
<rect x="429" y="229" width="3" height="31" fill="#fff"/>
<rect x="436" y="227" width="1" height="45" fill="#000"/>
<rect x="434" y="228" width="5" height="40" fill="#000"/>
<rect x="435" y="229" width="3" height="38" fill="#808080"/>
<rect x="442" y="237" width="1" height="60" fill="#000"/>
<rect x="440" y="267" width="5" height="29" fill="#000"/>
<rect x="441" y="268" width="3" height="27" fill="#808080"/>
<rect x="448" y="227" width="1" height="69" fill="#000"/>
<rect x="446" y="242" width="5" height="54" fill="#000"/>
<rect x="447" y="243" width="3" height="52" fill="#fff"/>
<rect x="454" y="206" width="1" height="37" fill="#000"/>
<rect x="452" y="227" width="5" height="16" fill="#000"/>
<rect x="453" y="228" width="3" height="14" fill="#fff"/>
<rect x="460" y="211" width="1" height="22" fill="#000"/>
<rect x="458" y="227" width="5" height="4" fill="#000"/>
<rect x="459" y="228" width="3" height="2" fill="#808080"/>
<rect x="466" y="226" width="1" height="23" fill="#000"/>
<rect x="464" y="230" width="5" height="19" fill="#000"/>
<rect x="465" y="231" width="3" height="17" fill="#808080"/>
<rect x="472" y="227" width="1" height="26" fill="#000"/>
<rect x="470" y="228" width="5" height="21" fill="#000"/>
<rect x="471" y="229" width="3" height="19" fill="#fff"/>
<rect x="478" y="222" width="1" height="27" fill="#000"/>
<rect x="476" y="228" width="5" height="20" fill="#000"/>
<rect x="477" y="229" width="3" height="18" fill="#808080"/>
<rect x="484" y="225" width="1" height="26" fill="#000"/>
<rect x="482" y="232" width="5" height="13" fill="#000"/>
<rect x="483" y="233" width="3" height="11" fill="#808080"/>
<rect x="490" y="240" width="1" height="17" fill="#000"/>
<rect x="488" y="244" width="5" height="4" fill="#000"/>
<rect x="489" y="245" width="3" height="2" fill="#808080"/>
<rect x="496" y="247" width="1" height="16" fill="#000"/>
<rect x="494" y="247" width="5" height="15" fill="#000"/>
<rect x="495" y="248" width="3" height="13" fill="#808080"/>
<rect x="502" y="248" width="1" height="19" fill="#000"/>
<rect x="500" y="251" width="5" height="11" fill="#000"/>
<rect x="501" y="252" width="3" height="9" fill="#fff"/>
<rect x="508" y="247" width="1" height="13" fill="#000"/>
<rect x="506" y="251" width="5" height="1" fill="#000"/>
<rect x="514" y="241" width="1" height="14" fill="#000"/>
<rect x="512" y="246" width="5" height="6" fill="#000"/>
<rect x="513" y="247" width="3" height="4" fill="#fff"/>
<rect x="520" y="244" width="1" height="18" fill="#000"/>
<rect x="518" y="246" width="5" height="14" fill="#000"/>
<rect x="519" y="247" width="3" height="12" fill="#808080"/>
<rect x="526" y="249" width="1" height="14" fill="#000"/>
<rect x="524" y="252" width="5" height="8" fill="#000"/>
<rect x="525" y="253" width="3" height="6" fill="#fff"/>
<rect x="532" y="239" width="1" height="16" fill="#000"/>
<rect x="530" y="249" width="5" height="4" fill="#000"/>
<rect x="531" y="250" width="3" height="2" fill="#fff"/>
<rect x="538" y="249" width="1" height="15" fill="#000"/>
<rect x="536" y="249" width="5" height="10" fill="#000"/>
<rect x="537" y="250" width="3" height="8" fill="#808080"/>
<rect x="544" y="238" width="1" height="35" fill="#000"/>
<rect x="542" y="252" width="5" height="7" fill="#000"/>
<rect x="543" y="253" width="3" height="5" fill="#fff"/>
<rect x="550" y="241" width="1" height="18" fill="#000"/>
<rect x="548" y="252" width="5" height="3" fill="#000"/>
<rect x="549" y="253" width="3" height="1" fill="#808080"/>
<rect x="556" y="245" width="1" height="15" fill="#000"/>
<rect x="554" y="247" width="5" height="8" fill="#000"/>
<rect x="555" y="248" width="3" height="6" fill="#fff"/>
<rect x="562" y="246" width="1" height="19" fill="#000"/>
<rect x="560" y="247" width="5" height="16" fill="#000"/>
<rect x="561" y="248" width="3" height="14" fill="#808080"/>
<rect x="568" y="257" width="1" height="34" fill="#000"/>
<rect x="566" y="262" width="5" height="21" fill="#000"/>
<rect x="567" y="263" width="3" height="19" fill="#808080"/>
<rect x="574" y="271" width="1" height="22" fill="#000"/>
<rect x="572" y="279" width="5" height="4" fill="#000"/>
<rect x="573" y="280" width="3" height="2" fill="#fff"/>
<rect x="580" y="255" width="1" height="28" fill="#000"/>
<rect x="578" y="274" width="5" height="6" fill="#000"/>
<rect x="579" y="275" width="3" height="4" fill="#fff"/>
<rect x="586" y="273" width="1" height="16" fill="#000"/>
<rect x="584" y="274" width="5" height="7" fill="#000"/>
<rect x="585" y="275" width="3" height="5" fill="#808080"/>
<rect x="592" y="274" width="1" height="26" fill="#000"/>
<rect x="590" y="280" width="5" height="7" fill="#000"/>
<rect x="591" y="281" width="3" height="5" fill="#808080"/>
<rect x="598" y="281" width="1" height="19" fill="#000"/>
<rect x="596" y="286" width="5" height="10" fill="#000"/>
<rect x="597" y="287" width="3" height="8" fill="#808080"/>
<rect x="604" y="288" width="1" height="8" fill="#000"/>
<rect x="602" y="292" width="5" height="4" fill="#000"/>
<rect x="603" y="293" width="3" height="2" fill="#fff"/>
<rect x="610" y="280" width="1" height="14" fill="#000"/>
<rect x="608" y="280" width="5" height="13" fill="#000"/>
<rect x="609" y="281" width="3" height="11" fill="#fff"/>
<rect x="616" y="278" width="1" height="6" fill="#000"/>
<rect x="614" y="280" width="5" height="2" fill="#000"/>
<rect x="622" y="280" width="1" height="10" fill="#000"/>
<rect x="620" y="281" width="5" height="8" fill="#000"/>
<rect x="621" y="282" width="3" height="6" fill="#808080"/>
<rect x="628" y="288" width="1" height="9" fill="#000"/>
<rect x="626" y="288" width="5" height="6" fill="#000"/>
<rect x="627" y="289" width="3" height="4" fill="#808080"/>
<rect x="634" y="287" width="1" height="13" fill="#000"/>
<rect x="632" y="290" width="5" height="4" fill="#000"/>
<rect x="633" y="291" width="3" height="2" fill="#fff"/>
<rect x="640" y="286" width="1" height="25" fill="#000"/>
<rect x="638" y="290" width="5" height="18" fill="#000"/>
<rect x="639" y="291" width="3" height="16" fill="#808080"/>
<rect x="646" y="304" width="1" height="11" fill="#000"/>
<rect x="644" y="305" width="5" height="3" fill="#000"/>
<rect x="645" y="306" width="3" height="1" fill="#fff"/>
<rect x="652" y="298" width="1" height="17" fill="#000"/>
<rect x="650" y="305" width="5" height="7" fill="#000"/>
<rect x="651" y="306" width="3" height="5" fill="#808080"/>
<rect x="658" y="311" width="1" height="11" fill="#000"/>
<rect x="656" y="311" width="5" height="2" fill="#000"/>
<rect x="664" y="310" width="1" height="8" fill="#000"/>
<rect x="662" y="312" width="5" height="3" fill="#000"/>
<rect x="663" y="313" width="3" height="1" fill="#808080"/>
<rect x="670" y="312" width="1" height="16" fill="#000"/>
<rect x="668" y="313" width="5" height="2" fill="#000"/>
<rect x="676" y="302" width="1" height="12" fill="#000"/>
<rect x="674" y="307" width="5" height="7" fill="#000"/>
<rect x="675" y="308" width="3" height="5" fill="#fff"/>
<rect x="682" y="305" width="1" height="41" fill="#000"/>
<rect x="680" y="307" width="5" height="29" fill="#000"/>
<rect x="681" y="308" width="3" height="27" fill="#808080"/>
<rect x="688" y="306" width="1" height="36" fill="#000"/>
<rect x="686" y="315" width="5" height="21" fill="#000"/>
<rect x="687" y="316" width="3" height="19" fill="#fff"/>
<rect x="694" y="291" width="1" height="26" fill="#000"/>
<rect x="692" y="300" width="5" height="16" fill="#000"/>
<rect x="693" y="301" width="3" height="14" fill="#fff"/>
<rect x="700" y="298" width="1" height="15" fill="#000"/>
<rect x="698" y="300" width="5" height="11" fill="#000"/>
<rect x="699" y="301" width="3" height="9" fill="#808080"/>
<rect x="706" y="305" width="1" height="53" fill="#000"/>
<rect x="704" y="310" width="5" height="31" fill="#000"/>
<rect x="705" y="311" width="3" height="29" fill="#808080"/>
<rect x="712" y="327" width="1" height="23" fill="#000"/>
<rect x="710" y="340" width="5" height="9" fill="#000"/>
<rect x="711" y="341" width="3" height="7" fill="#808080"/>
<rect x="718" y="341" width="1" height="39" fill="#000"/>
<rect x="716" y="348" width="5" height="16" fill="#000"/>
<rect x="717" y="349" width="3" height="14" fill="#808080"/>
<rect x="724" y="347" width="1" height="31" fill="#000"/>
<rect x="722" y="358" width="5" height="6" fill="#000"/>
<rect x="723" y="359" width="3" height="4" fill="#fff"/>
<rect x="730" y="358" width="1" height="49" fill="#000"/>
<rect x="728" y="358" width="5" height="35" fill="#000"/>
<rect x="729" y="359" width="3" height="33" fill="#808080"/>
<rect x="736" y="328" width="1" height="65" fill="#000"/>
<rect x="734" y="340" width="5" height="53" fill="#000"/>
<rect x="735" y="341" width="3" height="51" fill="#fff"/>
<rect x="742" y="311" width="1" height="33" fill="#000"/>
<rect x="740" y="318" width="5" height="23" fill="#000"/>
<rect x="741" y="319" width="3" height="21" fill="#fff"/>
<rect x="748" y="282" width="1" height="38" fill="#000"/>
<rect x="746" y="295" width="5" height="24" fill="#000"/>
<rect x="747" y="296" width="3" height="22" fill="#fff"/>
<rect x="754" y="289" width="1" height="19" fill="#000"/>
<rect x="752" y="295" width="5" height="2" fill="#000"/>
<rect x="760" y="284" width="1" height="14" fill="#000"/>
<rect x="758" y="288" width="5" height="9" fill="#000"/>
<rect x="759" y="289" width="3" height="7" fill="#fff"/>
<rect x="766" y="277" width="1" height="14" fill="#000"/>
<rect x="764" y="277" width="5" height="12" fill="#000"/>
<rect x="765" y="278" width="3" height="10" fill="#fff"/>
<rect x="772" y="277" width="1" height="14" fill="#000"/>
<rect x="770" y="277" width="5" height="13" fill="#000"/>
<rect x="771" y="278" width="3" height="11" fill="#808080"/>
<rect x="778" y="272" width="1" height="18" fill="#000"/>
<rect x="776" y="289" width="5" height="1" fill="#000"/>
<rect x="784" y="282" width="1" height="17" fill="#000"/>
<rect x="782" y="289" width="5" height="10" fill="#000"/>
<rect x="783" y="290" width="3" height="8" fill="#808080"/>
<rect x="790" y="296" width="1" height="14" fill="#000"/>
<rect x="788" y="298" width="5" height="3" fill="#000"/>
<rect x="789" y="299" width="3" height="1" fill="#808080"/>
<rect x="796" y="298" width="1" height="14" fill="#000"/>
<rect x="794" y="300" width="5" height="6" fill="#000"/>
<rect x="795" y="301" width="3" height="4" fill="#808080"/>
<rect x="802" y="299" width="1" height="15" fill="#000"/>
<rect x="800" y="305" width="5" height="9" fill="#000"/>
<rect x="801" y="306" width="3" height="7" fill="#808080"/>
<rect x="808" y="307" width="1" height="11" fill="#000"/>
<rect x="806" y="312" width="5" height="2" fill="#000"/>
<rect x="814" y="302" width="1" height="11" fill="#000"/>
<rect x="812" y="302" width="5" height="11" fill="#000"/>
<rect x="813" y="303" width="3" height="9" fill="#fff"/>
<rect x="820" y="300" width="1" height="16" fill="#000"/>
<rect x="818" y="302" width="5" height="3" fill="#000"/>
<rect x="819" y="303" width="3" height="1" fill="#808080"/>
<rect x="826" y="300" width="1" height="35" fill="#000"/>
<rect x="824" y="304" width="5" height="27" fill="#000"/>
<rect x="825" y="305" width="3" height="25" fill="#808080"/>
<rect x="832" y="321" width="1" height="26" fill="#000"/>
<rect x="830" y="330" width="5" height="10" fill="#000"/>
<rect x="831" y="331" width="3" height="8" fill="#808080"/>
<rect x="838" y="320" width="1" height="27" fill="#000"/>
<rect x="836" y="327" width="5" height="13" fill="#000"/>
<rect x="837" y="328" width="3" height="11" fill="#fff"/>
<rect x="844" y="315" width="1" height="25" fill="#000"/>
<rect x="842" y="327" width="5" height="11" fill="#000"/>
<rect x="843" y="328" width="3" height="9" fill="#808080"/>
<rect x="850" y="322" width="1" height="19" fill="#000"/>
<rect x="848" y="330" width="5" height="8" fill="#000"/>
<rect x="849" y="331" width="3" height="6" fill="#fff"/>
<rect x="856" y="298" width="1" height="35" fill="#000"/>
<rect x="854" y="317" width="5" height="14" fill="#000"/>
<rect x="855" y="318" width="3" height="12" fill="#fff"/>
<rect x="862" y="294" width="1" height="66" fill="#000"/>
<rect x="860" y="317" width="5" height="43" fill="#000"/>
<rect x="861" y="318" width="3" height="41" fill="#808080"/>
<rect x="868" y="348" width="1" height="41" fill="#000"/>
<rect x="866" y="359" width="5" height="22" fill="#000"/>
<rect x="867" y="360" width="3" height="20" fill="#808080"/>
<rect x="874" y="350" width="1" height="35" fill="#000"/>
<rect x="872" y="361" width="5" height="20" fill="#000"/>
<rect x="873" y="362" width="3" height="18" fill="#fff"/>
<rect x="880" y="352" width="1" height="44" fill="#000"/>
<rect x="878" y="361" width="5" height="35" fill="#000"/>
<rect x="879" y="362" width="3" height="33" fill="#808080"/>
<rect x="886" y="383" width="1" height="32" fill="#000"/>
<rect x="884" y="395" width="5" height="10" fill="#000"/>
<rect x="885" y="396" width="3" height="8" fill="#808080"/>
<rect x="892" y="401" width="1" height="52" fill="#000"/>
<rect x="890" y="404" width="5" height="43" fill="#000"/>
<rect x="891" y="405" width="3" height="41" fill="#808080"/>
<rect x="898" y="433" width="1" height="29" fill="#000"/>
<rect x="896" y="446" width="5" height="8" fill="#000"/>
<rect x="897" y="447" width="3" height="6" fill="#808080"/>
<rect x="904" y="445" width="1" height="21" fill="#000"/>
<rect x="902" y="453" width="5" height="10" fill="#000"/>
<rect x="903" y="454" width="3" height="8" fill="#808080"/>
<rect x="910" y="453" width="1" height="14" fill="#000"/>
<rect x="908" y="462" width="5" height="4" fill="#000"/>
<rect x="909" y="463" width="3" height="2" fill="#808080"/>
<rect x="916" y="458" width="1" height="12" fill="#000"/>
<rect x="914" y="461" width="5" height="5" fill="#000"/>
<rect x="915" y="462" width="3" height="3" fill="#fff"/>
<rect x="922" y="447" width="1" height="15" fill="#000"/>
<rect x="920" y="450" width="5" height="12" fill="#000"/>
<rect x="921" y="451" width="3" height="10" fill="#fff"/>
<rect x="928" y="441" width="1" height="17" fill="#000"/>
<rect x="926" y="446" width="5" height="5" fill="#000"/>
<rect x="927" y="447" width="3" height="3" fill="#fff"/>
<rect x="934" y="432" width="1" height="15" fill="#000"/>
<rect x="932" y="434" width="5" height="13" fill="#000"/>
<rect x="933" y="435" width="3" height="11" fill="#fff"/>
<rect x="940" y="431" width="1" height="14" fill="#000"/>
<rect x="938" y="434" width="5" height="11" fill="#000"/>
<rect x="939" y="435" width="3" height="9" fill="#808080"/>
<rect x="946" y="438" width="1" height="14" fill="#000"/>
<rect x="944" y="444" width="5" height="1" fill="#000"/>
<rect x="952" y="442" width="1" height="18" fill="#000"/>
<rect x="950" y="444" width="5" height="4" fill="#000"/>
<rect x="951" y="445" width="3" height="2" fill="#808080"/>
<rect x="958" y="438" width="1" height="17" fill="#000"/>
<rect x="956" y="442" width="5" height="6" fill="#000"/>
<rect x="957" y="443" width="3" height="4" fill="#fff"/>
<rect x="964" y="418" width="1" height="28" fill="#000"/>
<rect x="962" y="425" width="5" height="18" fill="#000"/>
<rect x="963" y="426" width="3" height="16" fill="#fff"/>
<rect x="970" y="411" width="1" height="28" fill="#000"/>
<rect x="968" y="419" width="5" height="7" fill="#000"/>
<rect x="969" y="420" width="3" height="5" fill="#fff"/>
<rect x="976" y="407" width="1" height="20" fill="#000"/>
<rect x="974" y="417" width="5" height="3" fill="#000"/>
<rect x="975" y="418" width="3" height="1" fill="#fff"/>
<rect x="982" y="401" width="1" height="22" fill="#000"/>
<rect x="980" y="417" width="5" height="4" fill="#000"/>
<rect x="981" y="418" width="3" height="2" fill="#808080"/>
<rect x="988" y="412" width="1" height="40" fill="#000"/>
<rect x="986" y="420" width="5" height="29" fill="#000"/>
<rect x="987" y="421" width="3" height="27" fill="#808080"/>
<rect x="994" y="445" width="1" height="35" fill="#000"/>
<rect x="992" y="448" width="5" height="23" fill="#000"/>
<rect x="993" y="449" width="3" height="21" fill="#808080"/>
<rect x="1000" y="470" width="1" height="35" fill="#000"/>
<rect x="998" y="470" width="5" height="30" fill="#000"/>
<rect x="999" y="471" width="3" height="28" fill="#808080"/>
<rect x="1006" y="498" width="1" height="48" fill="#000"/>
<rect x="1004" y="499" width="5" height="11" fill="#000"/>
<rect x="1005" y="500" width="3" height="9" fill="#808080"/>
<rect x="1012" y="507" width="1" height="63" fill="#000"/>
<rect x="1010" y="509" width="5" height="37" fill="#000"/>
<rect x="1011" y="510" width="3" height="35" fill="#808080"/>
<rect x="1018" y="483" width="1" height="71" fill="#000"/>
<rect x="1016" y="515" width="5" height="31" fill="#000"/>
<rect x="1017" y="516" width="3" height="29" fill="#fff"/>
<rect x="1024" y="496" width="1" height="32" fill="#000"/>
<rect x="1022" y="515" width="5" height="6" fill="#000"/>
<rect x="1023" y="516" width="3" height="4" fill="#808080"/>
<rect x="1030" y="503" width="1" height="31" fill="#000"/>
<rect x="1028" y="508" width="5" height="13" fill="#000"/>
<rect x="1029" y="509" width="3" height="11" fill="#fff"/>
<rect x="1036" y="487" width="1" height="24" fill="#000"/>
<rect x="1034" y="502" width="5" height="7" fill="#000"/>
<rect x="1035" y="503" width="3" height="5" fill="#fff"/>
<rect x="1042" y="493" width="1" height="32" fill="#000"/>
<rect x="1040" y="502" width="5" height="13" fill="#000"/>
<rect x="1041" y="503" width="3" height="11" fill="#808080"/>
<rect x="1048" y="501" width="1" height="14" fill="#000"/>
<rect x="1046" y="501" width="5" height="14" fill="#000"/>
<rect x="1047" y="502" width="3" height="12" fill="#fff"/>
<rect x="1054" y="476" width="1" height="27" fill="#000"/>
<rect x="1052" y="489" width="5" height="13" fill="#000"/>
<rect x="1053" y="490" width="3" height="11" fill="#fff"/>
<rect x="1060" y="489" width="1" height="17" fill="#000"/>
<rect x="1058" y="489" width="5" height="7" fill="#000"/>
<rect x="1059" y="490" width="3" height="5" fill="#808080"/>
<rect x="1066" y="483" width="1" height="20" fill="#000"/>
<rect x="1064" y="495" width="5" height="8" fill="#000"/>
<rect x="1065" y="496" width="3" height="6" fill="#808080"/>
<rect x="1072" y="492" width="1" height="14" fill="#000"/>
<rect x="1070" y="496" width="5" height="7" fill="#000"/>
<rect x="1071" y="497" width="3" height="5" fill="#fff"/>
<rect x="1078" y="496" width="1" height="4" fill="#000"/>
<rect x="1076" y="496" width="5" height="4" fill="#000"/>
<rect x="1077" y="497" width="3" height="2" fill="#808080"/>
</g>
<g shape-rendering="crispEdges" fill="#808080">
<rect x="0" y="499" width="1" height="1"/>
<rect x="3" y="499" width="1" height="1"/>
<rect x="6" y="499" width="1" height="1"/>
<rect x="9" y="499" width="1" height="1"/>
<rect x="12" y="499" width="1" height="1"/>
<rect x="15" y="499" width="1" height="1"/>
<rect x="18" y="499" width="1" height="1"/>
<rect x="21" y="499" width="1" height="1"/>
<rect x="24" y="499" width="1" height="1"/>
<rect x="27" y="499" width="1" height="1"/>
<rect x="30" y="499" width="1" height="1"/>
<rect x="33" y="499" width="1" height="1"/>
<rect x="36" y="499" width="1" height="1"/>
<rect x="39" y="499" width="1" height="1"/>
<rect x="42" y="499" width="1" height="1"/>
<rect x="45" y="499" width="1" height="1"/>
<rect x="48" y="499" width="1" height="1"/>
<rect x="51" y="499" width="1" height="1"/>
<rect x="54" y="499" width="1" height="1"/>
<rect x="57" y="499" width="1" height="1"/>
<rect x="60" y="499" width="1" height="1"/>
<rect x="63" y="499" width="1" height="1"/>
<rect x="66" y="499" width="1" height="1"/>
<rect x="69" y="499" width="1" height="1"/>
<rect x="72" y="499" width="1" height="1"/>
<rect x="75" y="499" width="1" height="1"/>
<rect x="78" y="499" width="1" height="1"/>
<rect x="81" y="499" width="1" height="1"/>
<rect x="84" y="499" width="1" height="1"/>
<rect x="87" y="499" width="1" height="1"/>
<rect x="90" y="499" width="1" height="1"/>
<rect x="93" y="499" width="1" height="1"/>
<rect x="96" y="499" width="1" height="1"/>
<rect x="99" y="499" width="1" height="1"/>
<rect x="102" y="499" width="1" height="1"/>
<rect x="105" y="499" width="1" height="1"/>
<rect x="108" y="499" width="1" height="1"/>
<rect x="111" y="499" width="1" height="1"/>
<rect x="114" y="499" width="1" height="1"/>
<rect x="117" y="499" width="1" height="1"/>
<rect x="120" y="499" width="1" height="1"/>
<rect x="123" y="499" width="1" height="1"/>
<rect x="126" y="499" width="1" height="1"/>
<rect x="129" y="499" width="1" height="1"/>
<rect x="132" y="499" width="1" height="1"/>
<rect x="135" y="499" width="1" height="1"/>
<rect x="138" y="499" width="1" height="1"/>
<rect x="141" y="499" width="1" height="1"/>
<rect x="144" y="499" width="1" height="1"/>
<rect x="147" y="499" width="1" height="1"/>
<rect x="150" y="499" width="1" height="1"/>
<rect x="153" y="499" width="1" height="1"/>
<rect x="156" y="499" width="1" height="1"/>
<rect x="159" y="499" width="1" height="1"/>
<rect x="162" y="499" width="1" height="1"/>
<rect x="165" y="499" width="1" height="1"/>
<rect x="168" y="499" width="1" height="1"/>
<rect x="171" y="499" width="1" height="1"/>
<rect x="174" y="499" width="1" height="1"/>
<rect x="177" y="499" width="1" height="1"/>
<rect x="180" y="499" width="1" height="1"/>
<rect x="183" y="499" width="1" height="1"/>
<rect x="186" y="499" width="1" height="1"/>
<rect x="189" y="499" width="1" height="1"/>
<rect x="192" y="499" width="1" height="1"/>
<rect x="195" y="499" width="1" height="1"/>
<rect x="198" y="499" width="1" height="1"/>
<rect x="201" y="499" width="1" height="1"/>
<rect x="204" y="499" width="1" height="1"/>
<rect x="207" y="499" width="1" height="1"/>
<rect x="210" y="499" width="1" height="1"/>
<rect x="213" y="499" width="1" height="1"/>
<rect x="216" y="499" width="1" height="1"/>
<rect x="219" y="499" width="1" height="1"/>
<rect x="222" y="499" width="1" height="1"/>
<rect x="225" y="499" width="1" height="1"/>
<rect x="228" y="499" width="1" height="1"/>
<rect x="231" y="499" width="1" height="1"/>
<rect x="234" y="499" width="1" height="1"/>
<rect x="237" y="499" width="1" height="1"/>
<rect x="240" y="499" width="1" height="1"/>
<rect x="243" y="499" width="1" height="1"/>
<rect x="246" y="499" width="1" height="1"/>
<rect x="249" y="499" width="1" height="1"/>
<rect x="252" y="499" width="1" height="1"/>
<rect x="255" y="499" width="1" height="1"/>
<rect x="258" y="499" width="1" height="1"/>
<rect x="261" y="499" width="1" height="1"/>
<rect x="264" y="499" width="1" height="1"/>
<rect x="267" y="499" width="1" height="1"/>
<rect x="270" y="499" width="1" height="1"/>
<rect x="273" y="499" width="1" height="1"/>
<rect x="276" y="499" width="1" height="1"/>
<rect x="279" y="499" width="1" height="1"/>
<rect x="282" y="499" width="1" height="1"/>
<rect x="285" y="499" width="1" height="1"/>
<rect x="288" y="499" width="1" height="1"/>
<rect x="291" y="499" width="1" height="1"/>
<rect x="294" y="499" width="1" height="1"/>
<rect x="297" y="499" width="1" height="1"/>
<rect x="300" y="499" width="1" height="1"/>
<rect x="303" y="499" width="1" height="1"/>
<rect x="306" y="499" width="1" height="1"/>
<rect x="309" y="499" width="1" height="1"/>
<rect x="312" y="499" width="1" height="1"/>
<rect x="315" y="499" width="1" height="1"/>
<rect x="318" y="499" width="1" height="1"/>
<rect x="321" y="499" width="1" height="1"/>
<rect x="324" y="499" width="1" height="1"/>
<rect x="327" y="499" width="1" height="1"/>
<rect x="330" y="499" width="1" height="1"/>
<rect x="333" y="499" width="1" height="1"/>
<rect x="336" y="499" width="1" height="1"/>
<rect x="339" y="499" width="1" height="1"/>
<rect x="342" y="499" width="1" height="1"/>
<rect x="345" y="499" width="1" height="1"/>
<rect x="348" y="499" width="1" height="1"/>
<rect x="351" y="499" width="1" height="1"/>
<rect x="354" y="499" width="1" height="1"/>
<rect x="357" y="499" width="1" height="1"/>
<rect x="360" y="499" width="1" height="1"/>
<rect x="363" y="499" width="1" height="1"/>
<rect x="366" y="499" width="1" height="1"/>
<rect x="369" y="499" width="1" height="1"/>
<rect x="372" y="499" width="1" height="1"/>
<rect x="375" y="499" width="1" height="1"/>
<rect x="378" y="499" width="1" height="1"/>
<rect x="381" y="499" width="1" height="1"/>
<rect x="384" y="499" width="1" height="1"/>
<rect x="387" y="499" width="1" height="1"/>
<rect x="390" y="499" width="1" height="1"/>
<rect x="393" y="499" width="1" height="1"/>
<rect x="396" y="499" width="1" height="1"/>
<rect x="399" y="499" width="1" height="1"/>
<rect x="402" y="499" width="1" height="1"/>
<rect x="405" y="499" width="1" height="1"/>
<rect x="408" y="499" width="1" height="1"/>
<rect x="411" y="499" width="1" height="1"/>
<rect x="414" y="499" width="1" height="1"/>
<rect x="417" y="499" width="1" height="1"/>
<rect x="420" y="499" width="1" height="1"/>
<rect x="423" y="499" width="1" height="1"/>
<rect x="426" y="499" width="1" height="1"/>
<rect x="429" y="499" width="1" height="1"/>
<rect x="432" y="499" width="1" height="1"/>
<rect x="435" y="499" width="1" height="1"/>
<rect x="438" y="499" width="1" height="1"/>
<rect x="441" y="499" width="1" height="1"/>
<rect x="444" y="499" width="1" height="1"/>
<rect x="447" y="499" width="1" height="1"/>
<rect x="450" y="499" width="1" height="1"/>
<rect x="453" y="499" width="1" height="1"/>
<rect x="456" y="499" width="1" height="1"/>
<rect x="459" y="499" width="1" height="1"/>
<rect x="462" y="499" width="1" height="1"/>
<rect x="465" y="499" width="1" height="1"/>
<rect x="468" y="499" width="1" height="1"/>
<rect x="471" y="499" width="1" height="1"/>
<rect x="474" y="499" width="1" height="1"/>
<rect x="477" y="499" width="1" height="1"/>
<rect x="480" y="499" width="1" height="1"/>
<rect x="483" y="499" width="1" height="1"/>
<rect x="486" y="499" width="1" height="1"/>
<rect x="489" y="499" width="1" height="1"/>
<rect x="492" y="499" width="1" height="1"/>
<rect x="495" y="499" width="1" height="1"/>
<rect x="498" y="499" width="1" height="1"/>
<rect x="501" y="499" width="1" height="1"/>
<rect x="504" y="499" width="1" height="1"/>
<rect x="507" y="499" width="1" height="1"/>
<rect x="510" y="499" width="1" height="1"/>
<rect x="513" y="499" width="1" height="1"/>
<rect x="516" y="499" width="1" height="1"/>
<rect x="519" y="499" width="1" height="1"/>
<rect x="522" y="499" width="1" height="1"/>
<rect x="525" y="499" width="1" height="1"/>
<rect x="528" y="499" width="1" height="1"/>
<rect x="531" y="499" width="1" height="1"/>
<rect x="534" y="499" width="1" height="1"/>
<rect x="537" y="499" width="1" height="1"/>
<rect x="540" y="499" width="1" height="1"/>
<rect x="543" y="499" width="1" height="1"/>
<rect x="546" y="499" width="1" height="1"/>
<rect x="549" y="499" width="1" height="1"/>
<rect x="552" y="499" width="1" height="1"/>
<rect x="555" y="499" width="1" height="1"/>
<rect x="558" y="499" width="1" height="1"/>
<rect x="561" y="499" width="1" height="1"/>
<rect x="564" y="499" width="1" height="1"/>
<rect x="567" y="499" width="1" height="1"/>
<rect x="570" y="499" width="1" height="1"/>
<rect x="573" y="499" width="1" height="1"/>
<rect x="576" y="499" width="1" height="1"/>
<rect x="579" y="499" width="1" height="1"/>
<rect x="582" y="499" width="1" height="1"/>
<rect x="585" y="499" width="1" height="1"/>
<rect x="588" y="499" width="1" height="1"/>
<rect x="591" y="499" width="1" height="1"/>
<rect x="594" y="499" width="1" height="1"/>
<rect x="597" y="499" width="1" height="1"/>
<rect x="600" y="499" width="1" height="1"/>
<rect x="603" y="499" width="1" height="1"/>
<rect x="606" y="499" width="1" height="1"/>
<rect x="609" y="499" width="1" height="1"/>
<rect x="612" y="499" width="1" height="1"/>
<rect x="615" y="499" width="1" height="1"/>
<rect x="618" y="499" width="1" height="1"/>
<rect x="621" y="499" width="1" height="1"/>
<rect x="624" y="499" width="1" height="1"/>
<rect x="627" y="499" width="1" height="1"/>
<rect x="630" y="499" width="1" height="1"/>
<rect x="633" y="499" width="1" height="1"/>
<rect x="636" y="499" width="1" height="1"/>
<rect x="639" y="499" width="1" height="1"/>
<rect x="642" y="499" width="1" height="1"/>
<rect x="645" y="499" width="1" height="1"/>
<rect x="648" y="499" width="1" height="1"/>
<rect x="651" y="499" width="1" height="1"/>
<rect x="654" y="499" width="1" height="1"/>
<rect x="657" y="499" width="1" height="1"/>
<rect x="660" y="499" width="1" height="1"/>
<rect x="663" y="499" width="1" height="1"/>
<rect x="666" y="499" width="1" height="1"/>
<rect x="669" y="499" width="1" height="1"/>
<rect x="672" y="499" width="1" height="1"/>
<rect x="675" y="499" width="1" height="1"/>
<rect x="678" y="499" width="1" height="1"/>
<rect x="681" y="499" width="1" height="1"/>
<rect x="684" y="499" width="1" height="1"/>
<rect x="687" y="499" width="1" height="1"/>
<rect x="690" y="499" width="1" height="1"/>
<rect x="693" y="499" width="1" height="1"/>
<rect x="696" y="499" width="1" height="1"/>
<rect x="699" y="499" width="1" height="1"/>
<rect x="702" y="499" width="1" height="1"/>
<rect x="705" y="499" width="1" height="1"/>
<rect x="708" y="499" width="1" height="1"/>
<rect x="711" y="499" width="1" height="1"/>
<rect x="714" y="499" width="1" height="1"/>
<rect x="717" y="499" width="1" height="1"/>
<rect x="720" y="499" width="1" height="1"/>
<rect x="723" y="499" width="1" height="1"/>
<rect x="726" y="499" width="1" height="1"/>
<rect x="729" y="499" width="1" height="1"/>
<rect x="732" y="499" width="1" height="1"/>
<rect x="735" y="499" width="1" height="1"/>
<rect x="738" y="499" width="1" height="1"/>
<rect x="741" y="499" width="1" height="1"/>
<rect x="744" y="499" width="1" height="1"/>
<rect x="747" y="499" width="1" height="1"/>
<rect x="750" y="499" width="1" height="1"/>
<rect x="753" y="499" width="1" height="1"/>
<rect x="756" y="499" width="1" height="1"/>
<rect x="759" y="499" width="1" height="1"/>
<rect x="762" y="499" width="1" height="1"/>
<rect x="765" y="499" width="1" height="1"/>
<rect x="768" y="499" width="1" height="1"/>
<rect x="771" y="499" width="1" height="1"/>
<rect x="774" y="499" width="1" height="1"/>
<rect x="777" y="499" width="1" height="1"/>
<rect x="780" y="499" width="1" height="1"/>
<rect x="783" y="499" width="1" height="1"/>
<rect x="786" y="499" width="1" height="1"/>
<rect x="789" y="499" width="1" height="1"/>
<rect x="792" y="499" width="1" height="1"/>
<rect x="795" y="499" width="1" height="1"/>
<rect x="798" y="499" width="1" height="1"/>
<rect x="801" y="499" width="1" height="1"/>
<rect x="804" y="499" width="1" height="1"/>
<rect x="807" y="499" width="1" height="1"/>
<rect x="810" y="499" width="1" height="1"/>
<rect x="813" y="499" width="1" height="1"/>
<rect x="816" y="499" width="1" height="1"/>
<rect x="819" y="499" width="1" height="1"/>
<rect x="822" y="499" width="1" height="1"/>
<rect x="825" y="499" width="1" height="1"/>
<rect x="828" y="499" width="1" height="1"/>
<rect x="831" y="499" width="1" height="1"/>
<rect x="834" y="499" width="1" height="1"/>
<rect x="837" y="499" width="1" height="1"/>
<rect x="840" y="499" width="1" height="1"/>
<rect x="843" y="499" width="1" height="1"/>
<rect x="846" y="499" width="1" height="1"/>
<rect x="849" y="499" width="1" height="1"/>
<rect x="852" y="499" width="1" height="1"/>
<rect x="855" y="499" width="1" height="1"/>
<rect x="858" y="499" width="1" height="1"/>
<rect x="861" y="499" width="1" height="1"/>
<rect x="864" y="499" width="1" height="1"/>
<rect x="867" y="499" width="1" height="1"/>
<rect x="870" y="499" width="1" height="1"/>
<rect x="873" y="499" width="1" height="1"/>
<rect x="876" y="499" width="1" height="1"/>
<rect x="879" y="499" width="1" height="1"/>
<rect x="882" y="499" width="1" height="1"/>
<rect x="885" y="499" width="1" height="1"/>
<rect x="888" y="499" width="1" height="1"/>
<rect x="891" y="499" width="1" height="1"/>
<rect x="894" y="499" width="1" height="1"/>
<rect x="897" y="499" width="1" height="1"/>
<rect x="900" y="499" width="1" height="1"/>
<rect x="903" y="499" width="1" height="1"/>
<rect x="906" y="499" width="1" height="1"/>
<rect x="909" y="499" width="1" height="1"/>
<rect x="912" y="499" width="1" height="1"/>
<rect x="915" y="499" width="1" height="1"/>
<rect x="918" y="499" width="1" height="1"/>
<rect x="921" y="499" width="1" height="1"/>
<rect x="924" y="499" width="1" height="1"/>
<rect x="927" y="499" width="1" height="1"/>
<rect x="930" y="499" width="1" height="1"/>
<rect x="933" y="499" width="1" height="1"/>
<rect x="936" y="499" width="1" height="1"/>
<rect x="939" y="499" width="1" height="1"/>
<rect x="942" y="499" width="1" height="1"/>
<rect x="945" y="499" width="1" height="1"/>
<rect x="948" y="499" width="1" height="1"/>
<rect x="951" y="499" width="1" height="1"/>
<rect x="954" y="499" width="1" height="1"/>
<rect x="957" y="499" width="1" height="1"/>
<rect x="960" y="499" width="1" height="1"/>
<rect x="963" y="499" width="1" height="1"/>
<rect x="966" y="499" width="1" height="1"/>
<rect x="969" y="499" width="1" height="1"/>
<rect x="972" y="499" width="1" height="1"/>
<rect x="975" y="499" width="1" height="1"/>
<rect x="978" y="499" width="1" height="1"/>
<rect x="981" y="499" width="1" height="1"/>
<rect x="984" y="499" width="1" height="1"/>
<rect x="987" y="499" width="1" height="1"/>
<rect x="990" y="499" width="1" height="1"/>
<rect x="993" y="499" width="1" height="1"/>
<rect x="996" y="499" width="1" height="1"/>
<rect x="999" y="499" width="1" height="1"/>
<rect x="1002" y="499" width="1" height="1"/>
<rect x="1005" y="499" width="1" height="1"/>
<rect x="1008" y="499" width="1" height="1"/>
<rect x="1011" y="499" width="1" height="1"/>
<rect x="1014" y="499" width="1" height="1"/>
<rect x="1017" y="499" width="1" height="1"/>
<rect x="1020" y="499" width="1" height="1"/>
<rect x="1023" y="499" width="1" height="1"/>
<rect x="1026" y="499" width="1" height="1"/>
<rect x="1029" y="499" width="1" height="1"/>
<rect x="1032" y="499" width="1" height="1"/>
<rect x="1035" y="499" width="1" height="1"/>
<rect x="1038" y="499" width="1" height="1"/>
<rect x="1041" y="499" width="1" height="1"/>
<rect x="1044" y="499" width="1" height="1"/>
<rect x="1047" y="499" width="1" height="1"/>
<rect x="1050" y="499" width="1" height="1"/>
<rect x="1053" y="499" width="1" height="1"/>
<rect x="1056" y="499" width="1" height="1"/>
<rect x="1059" y="499" width="1" height="1"/>
<rect x="1062" y="499" width="1" height="1"/>
<rect x="1065" y="499" width="1" height="1"/>
<rect x="1068" y="499" width="1" height="1"/>
<rect x="1071" y="499" width="1" height="1"/>
<rect x="1074" y="499" width="1" height="1"/>
<rect x="1077" y="499" width="1" height="1"/>
<rect x="1080" y="499" width="1" height="1"/>
<rect x="1083" y="499" width="1" height="1"/>
<rect x="1086" y="499" width="1" height="1"/>
<rect x="1089" y="499" width="1" height="1"/>
<rect x="1092" y="499" width="1" height="1"/>
<rect x="1095" y="499" width="1" height="1"/>
<rect x="1098" y="499" width="1" height="1"/>
<rect x="1101" y="499" width="1" height="1"/>
<rect x="1104" y="499" width="1" height="1"/>
<rect x="1107" y="499" width="1" height="1"/>
<rect x="1110" y="499" width="1" height="1"/>
<rect x="1113" y="499" width="1" height="1"/>
<rect x="1116" y="499" width="1" height="1"/>
<rect x="1119" y="499" width="1" height="1"/>
<rect x="1122" y="499" width="1" height="1"/>
<rect x="1125" y="499" width="1" height="1"/>
<rect x="1128" y="499" width="1" height="1"/>
<rect x="1131" y="499" width="1" height="1"/>
<rect x="1134" y="499" width="1" height="1"/>
<rect x="1137" y="499" width="1" height="1"/>
<rect x="1140" y="499" width="1" height="1"/>
<rect x="1143" y="499" width="1" height="1"/>
<rect x="1146" y="499" width="1" height="1"/>
<rect x="1149" y="499" width="1" height="1"/>
<rect x="1152" y="499" width="1" height="1"/>
<rect x="1155" y="499" width="1" height="1"/>
<rect x="1158" y="499" width="1" height="1"/>
<rect x="1161" y="499" width="1" height="1"/>
<rect x="1164" y="499" width="1" height="1"/>
<rect x="1167" y="499" width="1" height="1"/>
<rect x="1170" y="499" width="1" height="1"/>
<rect x="1173" y="499" width="1" height="1"/>
<rect x="1176" y="499" width="1" height="1"/>
<rect x="1179" y="499" width="1" height="1"/>
<rect x="1182" y="499" width="1" height="1"/>
<rect x="1185" y="499" width="1" height="1"/>
<rect x="1188" y="499" width="1" height="1"/>
<rect x="1191" y="499" width="1" height="1"/>
<rect x="1194" y="499" width="1" height="1"/>
<rect x="1197" y="499" width="1" height="1"/>
<rect x="1200" y="499" width="1" height="1"/>
<rect x="1203" y="499" width="1" height="1"/>
<rect x="1206" y="499" width="1" height="1"/>
<rect x="1209" y="499" width="1" height="1"/>
<rect x="1212" y="499" width="1" height="1"/>
</g>
<g shape-rendering="crispEdges">
<rect x="0" y="767" width="1" height="38" fill="#ffcdd2"/>
<rect x="2" y="767" width="5" height="29" fill="#ffcdd2"/>
<rect x="8" y="767" width="5" height="24" fill="#ffcdd2"/>
<rect x="14" y="767" width="5" height="30" fill="#ff5252"/>
<rect x="20" y="767" width="5" height="34" fill="#ff5252"/>
<rect x="26" y="767" width="5" height="38" fill="#ff5252"/>
<rect x="32" y="767" width="5" height="33" fill="#ffcdd2"/>
<rect x="38" y="767" width="5" height="33" fill="#ff5252"/>
<rect x="44" y="767" width="5" height="32" fill="#ffcdd2"/>
<rect x="50" y="767" width="5" height="33" fill="#ff5252"/>
<rect x="56" y="767" width="5" height="34" fill="#ff5252"/>
<rect x="62" y="767" width="5" height="28" fill="#ffcdd2"/>
<rect x="68" y="767" width="5" height="22" fill="#ffcdd2"/>
<rect x="74" y="767" width="5" height="12" fill="#ffcdd2"/>
<rect x="80" y="767" width="5" height="3" fill="#ffcdd2"/>
<rect x="86" y="765" width="5" height="3" fill="#26a69a"/>
<rect x="92" y="757" width="5" height="11" fill="#26a69a"/>
<rect x="98" y="755" width="5" height="13" fill="#26a69a"/>
<rect x="104" y="753" width="5" height="15" fill="#26a69a"/>
<rect x="110" y="752" width="5" height="16" fill="#26a69a"/>
<rect x="116" y="753" width="5" height="15" fill="#b2dfdb"/>
<rect x="122" y="752" width="5" height="16" fill="#26a69a"/>
<rect x="128" y="761" width="5" height="7" fill="#b2dfdb"/>
<rect x="134" y="767" width="5" height="6" fill="#ff5252"/>
<rect x="140" y="767" width="5" height="36" fill="#ff5252"/>
<rect x="146" y="767" width="5" height="54" fill="#ff5252"/>
<rect x="152" y="767" width="5" height="63" fill="#ff5252"/>
<rect x="158" y="767" width="5" height="52" fill="#ffcdd2"/>
<rect x="164" y="767" width="5" height="40" fill="#ffcdd2"/>
<rect x="170" y="767" width="5" height="33" fill="#ffcdd2"/>
<rect x="176" y="767" width="5" height="28" fill="#ffcdd2"/>
<rect x="182" y="767" width="5" height="29" fill="#ff5252"/>
<rect x="188" y="767" width="5" height="27" fill="#ffcdd2"/>
<rect x="194" y="767" width="5" height="23" fill="#ffcdd2"/>
<rect x="200" y="767" width="5" height="18" fill="#ffcdd2"/>
<rect x="206" y="767" width="5" height="12" fill="#ffcdd2"/>
<rect x="212" y="767" width="5" height="5" fill="#ffcdd2"/>
<rect x="218" y="767" width="5" height="1" fill="#26a69a"/>
<rect x="224" y="767" width="5" height="3" fill="#ff5252"/>
<rect x="230" y="767" width="5" height="9" fill="#ff5252"/>
<rect x="236" y="767" width="5" height="10" fill="#ff5252"/>
<rect x="242" y="767" width="5" height="12" fill="#ff5252"/>
<rect x="248" y="767" width="5" height="4" fill="#ffcdd2"/>
<rect x="254" y="761" width="5" height="7" fill="#26a69a"/>
<rect x="260" y="750" width="5" height="18" fill="#26a69a"/>
<rect x="266" y="750" width="5" height="18" fill="#26a69a"/>
<rect x="272" y="746" width="5" height="22" fill="#26a69a"/>
<rect x="278" y="751" width="5" height="17" fill="#b2dfdb"/>
<rect x="284" y="747" width="5" height="21" fill="#26a69a"/>
<rect x="290" y="746" width="5" height="22" fill="#26a69a"/>
<rect x="296" y="745" width="5" height="23" fill="#26a69a"/>
<rect x="302" y="754" width="5" height="14" fill="#b2dfdb"/>
<rect x="308" y="764" width="5" height="4" fill="#b2dfdb"/>
<rect x="314" y="767" width="5" height="5" fill="#ff5252"/>
<rect x="320" y="767" width="5" height="5" fill="#ffcdd2"/>
<rect x="326" y="767" width="5" height="4" fill="#ffcdd2"/>
<rect x="332" y="767" width="5" height="3" fill="#ffcdd2"/>
<rect x="338" y="767" width="5" height="2" fill="#ffcdd2"/>
<rect x="344" y="767" width="5" height="2" fill="#ffcdd2"/>
<rect x="350" y="766" width="5" height="2" fill="#26a69a"/>
<rect x="356" y="767" width="5" height="1" fill="#ff5252"/>
<rect x="362" y="766" width="5" height="2" fill="#26a69a"/>
<rect x="368" y="767" width="5" height="1" fill="#ff5252"/>
<rect x="374" y="767" width="5" height="4" fill="#ff5252"/>
<rect x="380" y="767" width="5" height="7" fill="#ff5252"/>
<rect x="386" y="767" width="5" height="11" fill="#ff5252"/>
<rect x="392" y="767" width="5" height="10" fill="#ffcdd2"/>
<rect x="398" y="767" width="5" height="7" fill="#ffcdd2"/>
<rect x="404" y="767" width="5" height="6" fill="#ffcdd2"/>
<rect x="410" y="767" width="5" height="6" fill="#ff5252"/>
<rect x="416" y="767" width="5" height="5" fill="#ffcdd2"/>
<rect x="422" y="767" width="5" height="2" fill="#ffcdd2"/>
<rect x="428" y="758" width="5" height="10" fill="#26a69a"/>
<rect x="434" y="761" width="5" height="7" fill="#b2dfdb"/>
<rect x="440" y="767" width="5" height="3" fill="#ff5252"/>
<rect x="446" y="762" width="5" height="6" fill="#26a69a"/>
<rect x="452" y="753" width="5" height="15" fill="#26a69a"/>
<rect x="458" y="749" width="5" height="19" fill="#26a69a"/>
<rect x="464" y="752" width="5" height="16" fill="#b2dfdb"/>
<rect x="470" y="749" width="5" height="19" fill="#26a69a"/>
<rect x="476" y="753" width="5" height="15" fill="#b2dfdb"/>
<rect x="482" y="755" width="5" height="13" fill="#b2dfdb"/>
<rect x="488" y="757" width="5" height="11" fill="#b2dfdb"/>
<rect x="494" y="762" width="5" height="6" fill="#b2dfdb"/>
<rect x="500" y="763" width="5" height="5" fill="#b2dfdb"/>
<rect x="506" y="764" width="5" height="4" fill="#b2dfdb"/>
<rect x="512" y="764" width="5" height="4" fill="#26a69a"/>
<rect x="518" y="766" width="5" height="2" fill="#b2dfdb"/>
<rect x="524" y="766" width="5" height="2" fill="#b2dfdb"/>
<rect x="530" y="766" width="5" height="2" fill="#26a69a"/>
<rect x="536" y="767" width="5" height="2" fill="#ff5252"/>
<rect x="542" y="767" width="5" height="1" fill="#26a69a"/>
<rect x="548" y="767" width="5" height="1" fill="#b2dfdb"/>
<rect x="554" y="765" width="5" height="3" fill="#26a69a"/>
<rect x="560" y="767" width="5" height="2" fill="#ff5252"/>
<rect x="566" y="767" width="5" height="8" fill="#ff5252"/>
<rect x="572" y="767" width="5" height="11" fill="#ff5252"/>
<rect x="578" y="767" width="5" height="11" fill="#ff5252"/>
<rect x="584" y="767" width="5" height="11" fill="#ff5252"/>
<rect x="590" y="767" width="5" height="13" fill="#ff5252"/>
<rect x="596" y="767" width="5" height="15" fill="#ff5252"/>
<rect x="602" y="767" width="5" height="14" fill="#ffcdd2"/>
<rect x="608" y="767" width="5" height="10" fill="#ffcdd2"/>
<rect x="614" y="767" width="5" height="7" fill="#ffcdd2"/>
<rect x="620" y="767" width="5" height="6" fill="#ffcdd2"/>
<rect x="626" y="767" width="5" height="7" fill="#ffcdd2"/>
<rect x="632" y="767" width="5" height="6" fill="#ffcdd2"/>
<rect x="638" y="767" width="5" height="8" fill="#ff5252"/>
<rect x="644" y="767" width="5" height="9" fill="#ff5252"/>
<rect x="650" y="767" width="5" height="10" fill="#ff5252"/>
<rect x="656" y="767" width="5" height="10" fill="#ff5252"/>
<rect x="662" y="767" width="5" height="9" fill="#ffcdd2"/>
<rect x="668" y="767" width="5" height="8" fill="#ffcdd2"/>
<rect x="674" y="767" width="5" height="5" fill="#ffcdd2"/>
<rect x="680" y="767" width="5" height="9" fill="#ff5252"/>
<rect x="686" y="767" width="5" height="6" fill="#ffcdd2"/>
<rect x="692" y="766" width="5" height="2" fill="#26a69a"/>
<rect x="698" y="764" width="5" height="4" fill="#26a69a"/>
<rect x="704" y="767" width="5" height="4" fill="#ff5252"/>
<rect x="710" y="767" width="5" height="9" fill="#ff5252"/>
<rect x="716" y="767" width="5" height="14" fill="#ff5252"/>
<rect x="722" y="767" width="5" height="15" fill="#ff5252"/>
<rect x="728" y="767" width="5" height="22" fill="#ff5252"/>
<rect x="734" y="767" width="5" height="13" fill="#ffcdd2"/>
<rect x="740" y="767" width="5" height="1" fill="#ffcdd2"/>
<rect x="746" y="754" width="5" height="14" fill="#26a69a"/>
<rect x="752" y="746" width="5" height="22" fill="#26a69a"/>
<rect x="758" y="740" width="5" height="28" fill="#26a69a"/>
<rect x="764" y="734" width="5" height="34" fill="#26a69a"/>
<rect x="770" y="735" width="5" height="33" fill="#b2dfdb"/>
<rect x="776" y="737" width="5" height="31" fill="#b2dfdb"/>
<rect x="782" y="741" width="5" height="27" fill="#b2dfdb"/>
<rect x="788" y="746" width="5" height="22" fill="#b2dfdb"/>
<rect x="794" y="751" width="5" height="17" fill="#b2dfdb"/>
<rect x="800" y="757" width="5" height="11" fill="#b2dfdb"/>
<rect x="806" y="760" width="5" height="8" fill="#b2dfdb"/>
<rect x="812" y="761" width="5" height="7" fill="#b2dfdb"/>
<rect x="818" y="762" width="5" height="6" fill="#b2dfdb"/>
<rect x="824" y="767" width="5" height="3" fill="#ff5252"/>
<rect x="830" y="767" width="5" height="9" fill="#ff5252"/>
<rect x="836" y="767" width="5" height="10" fill="#ff5252"/>
<rect x="842" y="767" width="5" height="12" fill="#ff5252"/>
<rect x="848" y="767" width="5" height="11" fill="#ffcdd2"/>
<rect x="854" y="767" width="5" height="7" fill="#ffcdd2"/>
<rect x="860" y="767" width="5" height="14" fill="#ff5252"/>
<rect x="866" y="767" width="5" height="22" fill="#ff5252"/>
<rect x="872" y="767" width="5" height="21" fill="#ffcdd2"/>
<rect x="878" y="767" width="5" height="27" fill="#ff5252"/>
<rect x="884" y="767" width="5" height="32" fill="#ff5252"/>
<rect x="890" y="767" width="5" height="42" fill="#ff5252"/>
<rect x="896" y="767" width="5" height="47" fill="#ff5252"/>
<rect x="902" y="767" width="5" height="50" fill="#ff5252"/>
<rect x="908" y="767" width="5" height="49" fill="#ffcdd2"/>
<rect x="914" y="767" width="5" height="44" fill="#ffcdd2"/>
<rect x="920" y="767" width="5" height="35" fill="#ffcdd2"/>
<rect x="926" y="767" width="5" height="26" fill="#ffcdd2"/>
<rect x="932" y="767" width="5" height="15" fill="#ffcdd2"/>
<rect x="938" y="767" width="5" height="9" fill="#ffcdd2"/>
<rect x="944" y="767" width="5" height="4" fill="#ffcdd2"/>
<rect x="950" y="766" width="5" height="2" fill="#26a69a"/>
<rect x="956" y="761" width="5" height="7" fill="#26a69a"/>
<rect x="962" y="754" width="5" height="14" fill="#26a69a"/>
<rect x="968" y="747" width="5" height="21" fill="#26a69a"/>
<rect x="974" y="743" width="5" height="25" fill="#26a69a"/>
<rect x="980" y="741" width="5" height="27" fill="#26a69a"/>
<rect x="986" y="747" width="5" height="21" fill="#b2dfdb"/>
<rect x="992" y="756" width="5" height="12" fill="#b2dfdb"/>
<rect x="998" y="767" width="5" height="2" fill="#ff5252"/>
<rect x="1004" y="767" width="5" height="11" fill="#ff5252"/>
<rect x="1010" y="767" width="5" height="24" fill="#ff5252"/>
<rect x="1016" y="767" width="5" height="22" fill="#ffcdd2"/>
<rect x="1022" y="767" width="5" height="21" fill="#ffcdd2"/>
<rect x="1028" y="767" width="5" height="15" fill="#ffcdd2"/>
<rect x="1034" y="767" width="5" height="9" fill="#ffcdd2"/>
<rect x="1040" y="767" width="5" height="6" fill="#ffcdd2"/>
<rect x="1046" y="765" width="5" height="3" fill="#26a69a"/>
<rect x="1052" y="758" width="5" height="10" fill="#26a69a"/>
<rect x="1058" y="754" width="5" height="14" fill="#26a69a"/>
<rect x="1064" y="753" width="5" height="15" fill="#26a69a"/>
<rect x="1070" y="751" width="5" height="17" fill="#26a69a"/>
<rect x="1076" y="750" width="5" height="18" fill="#26a69a"/>
</g>
<path d="M0.0,689.4 L4.0,689.8 L10.0,689.7 L16.0,702.7 L22.0,714.8 L28.0,727.7 L34.0,730.5 L40.0,738.5 L46.0,745.2 L52.0,754.6 L58.0,763.6 L64.0,763.7 L70.0,763.8 L76.0,755.8 L82.0,747.3 L88.0,743.5 L94.0,733.1 L100.0,727.6 L106.0,721.8 L112.0,717.5 L118.0,714.7 L124.0,710.5 L130.0,717.8 L136.0,730.0 L142.0,768.0 L148.0,799.0 L154.0,823.9 L160.0,824.9 L166.0,823.1 L172.0,824.1 L178.0,825.9 L184.0,833.1 L190.0,837.3 L196.0,839.3 L202.0,838.3 L208.0,835.3 L214.0,829.0 L220.0,824.9 L226.0,827.7 L232.0,835.0 L238.0,837.8 L244.0,842.5 L250.0,836.0 L256.0,824.9 L262.0,810.3 L268.0,805.7 L274.0,796.3 L280.0,797.0 L286.0,788.2 L292.0,782.7 L298.0,776.1 L304.0,782.1 L310.0,790.5 L316.0,798.3 L322.0,798.7 L328.0,799.3 L334.0,798.9 L340.0,798.2 L346.0,798.2 L352.0,795.5 L358.0,797.1 L364.0,796.3 L370.0,797.0 L376.0,800.1 L382.0,804.7 L388.0,810.5 L394.0,812.4 L400.0,810.5 L406.0,810.3 L412.0,812.0 L418.0,811.6 L424.0,808.5 L430.0,796.5 L436.0,797.9 L442.0,806.6 L448.0,797.9 L454.0,786.3 L460.0,778.1 L466.0,776.6 L472.0,769.4 L478.0,769.4 L484.0,768.4 L490.0,768.6 L496.0,772.5 L502.0,772.6 L508.0,772.7 L514.0,771.3 L520.0,773.9 L526.0,773.8 L532.0,772.9 L538.0,774.7 L544.0,774.2 L550.0,774.4 L556.0,772.3 L562.0,775.0 L568.0,782.7 L574.0,787.6 L580.0,789.8 L586.0,793.1 L592.0,797.1 L598.0,802.4 L604.0,805.2 L610.0,803.6 L616.0,801.9 L622.0,802.4 L628.0,803.9 L634.0,803.8 L640.0,808.1 L646.0,810.3 L652.0,813.5 L658.0,815.6 L664.0,817.3 L670.0,817.8 L676.0,815.8 L682.0,821.8 L688.0,820.0 L694.0,813.7 L700.0,811.2 L706.0,817.2 L712.0,823.7 L718.0,832.4 L724.0,837.0 L730.0,849.5 L736.0,843.4 L742.0,831.6 L748.0,815.0 L754.0,801.6 L760.0,788.5 L766.0,775.0 L772.0,767.9 L778.0,762.1 L784.0,760.3 L790.0,759.5 L796.0,760.5 L802.0,763.6 L808.0,765.7 L814.0,764.4 L820.0,764.1 L826.0,771.4 L832.0,779.5 L838.0,782.3 L844.0,787.1 L850.0,788.7 L856.0,786.0 L862.0,795.6 L868.0,808.8 L874.0,813.2 L880.0,825.8 L886.0,837.6 L892.0,857.9 L898.0,874.7 L904.0,889.3 L910.0,900.2 L916.0,906.0 L922.0,905.7 L928.0,902.8 L934.0,895.6 L940.0,891.5 L946.0,886.7 L952.0,882.5 L958.0,876.4 L964.0,865.6 L970.0,854.4 L976.0,843.9 L982.0,835.8 L988.0,836.6 L994.0,842.6 L1000.0,854.7 L1006.0,866.0 L1012.0,884.1 L1018.0,888.2 L1024.0,891.5 L1030.0,889.2 L1036.0,884.4 L1042.0,882.7 L1048.0,876.3 L1054.0,866.6 L1060.0,859.7 L1066.0,855.2 L1072.0,848.9 L1078.0,844.0" fill="none" stroke="#2196f3" stroke-width="1"/>
<path d="M0.0,655.0 L4.0,661.8 L10.0,667.4 L16.0,674.5 L22.0,682.5 L28.0,691.6 L34.0,699.4 L40.0,707.2 L46.0,714.8 L52.0,722.8 L58.0,730.9 L64.0,737.5 L70.0,742.7 L76.0,745.4 L82.0,745.7 L88.0,745.3 L94.0,742.9 L100.0,739.8 L106.0,736.2 L112.0,732.5 L118.0,728.9 L124.0,725.2 L130.0,723.8 L136.0,725.0 L142.0,733.6 L148.0,746.7 L154.0,762.1 L160.0,774.7 L166.0,784.4 L172.0,792.3 L178.0,799.0 L184.0,805.8 L190.0,812.1 L196.0,817.6 L202.0,821.7 L208.0,824.4 L214.0,825.3 L220.0,825.2 L226.0,825.7 L232.0,827.6 L238.0,829.6 L244.0,832.2 L250.0,833.0 L256.0,831.3 L262.0,827.1 L268.0,822.8 L274.0,817.5 L280.0,813.4 L286.0,808.4 L292.0,803.3 L298.0,797.8 L304.0,794.7 L310.0,793.8 L316.0,794.7 L322.0,795.5 L328.0,796.3 L334.0,796.8 L340.0,797.1 L346.0,797.3 L352.0,796.9 L358.0,797.0 L364.0,796.8 L370.0,796.9 L376.0,797.5 L382.0,799.0 L388.0,801.3 L394.0,803.5 L400.0,804.9 L406.0,806.0 L412.0,807.2 L418.0,808.1 L424.0,808.2 L430.0,805.8 L436.0,804.3 L442.0,804.7 L448.0,803.4 L454.0,799.9 L460.0,795.6 L466.0,791.8 L472.0,787.3 L478.0,783.7 L484.0,780.7 L490.0,778.2 L496.0,777.1 L502.0,776.2 L508.0,775.5 L514.0,774.7 L520.0,774.5 L526.0,774.4 L532.0,774.1 L538.0,774.2 L544.0,774.2 L550.0,774.2 L556.0,773.8 L562.0,774.1 L568.0,775.8 L574.0,778.2 L580.0,780.5 L586.0,783.0 L592.0,785.8 L598.0,789.2 L604.0,792.4 L610.0,794.6 L616.0,796.1 L622.0,797.3 L628.0,798.6 L634.0,799.7 L640.0,801.4 L646.0,803.2 L652.0,805.2 L658.0,807.3 L664.0,809.3 L670.0,811.0 L676.0,812.0 L682.0,813.9 L688.0,815.1 L694.0,814.8 L700.0,814.1 L706.0,814.7 L712.0,816.5 L718.0,819.7 L724.0,823.2 L730.0,828.4 L736.0,831.4 L742.0,831.4 L748.0,828.2 L754.0,822.8 L760.0,816.0 L766.0,807.8 L772.0,799.8 L778.0,792.3 L784.0,785.9 L790.0,780.6 L796.0,776.6 L802.0,774.0 L808.0,772.3 L814.0,770.7 L820.0,769.4 L826.0,769.8 L832.0,771.8 L838.0,773.9 L844.0,776.5 L850.0,779.0 L856.0,780.4 L862.0,783.4 L868.0,788.5 L874.0,793.4 L880.0,799.9 L886.0,807.4 L892.0,817.5 L898.0,829.0 L904.0,841.0 L910.0,852.9 L916.0,863.5 L922.0,871.9 L928.0,878.1 L934.0,881.6 L940.0,883.6 L946.0,884.2 L952.0,883.9 L958.0,882.4 L964.0,879.0 L970.0,874.1 L976.0,868.0 L982.0,861.6 L988.0,856.6 L994.0,853.8 L1000.0,854.0 L1006.0,856.4 L1012.0,861.9 L1018.0,867.2 L1024.0,872.0 L1030.0,875.5 L1036.0,877.3 L1042.0,878.3 L1048.0,877.9 L1054.0,875.7 L1060.0,872.5 L1066.0,869.0 L1072.0,865.0 L1078.0,860.8" fill="none" stroke="#ff3573" stroke-width="2" stroke-linejoin="round"/>
</svg>
<div class="axl" style="top:51px">1.19400</div>
<div class="axl" style="top:102px">1.19200</div>
<div class="axl" style="top:154px">1.19000</div>
<div class="axl" style="top:206px">1.18800</div>
<div class="axl" style="top:257px">1.18600</div>
<div class="axl" style="top:309px">1.18400</div>
<div class="axl" style="top:361px">1.18200</div>
<div class="axl" style="top:465px">1.17800</div>
<div class="axl" style="top:516px">1.17600</div>
<div class="axl" style="top:568px">1.17400</div>
<div class="axl" style="top:622px">0.00150</div>
<div class="axl" style="top:668px">0.00100</div>
<div class="axl" style="top:714px">0.00050</div>
<div class="axl" style="top:760px">0.00000</div>
<div class="axl" style="top:806px">−0.00050</div>
<div class="axl" style="top:898px">−0.00150</div>
<div class="lab" style="top:397px;background:#2196f3;color:#fff;width:56px">1.18037</div>
<div class="lab" style="top:414px;background:#e07b00;color:#fff;width:56px">1.17991</div>
<div class="lab" style="top:474px;background:#33a1e8;color:#fff;width:56px">1.17749</div>
<div class="lab" style="top:491px;background:#808080;color:#fff;width:56px">1.17693</div>
<div class="lab" style="top:508px;background:#f7b52c;color:#000;width:56px">1.17680</div>
<div class="lab" style="top:551px;background:#2196f3;color:#fff;width:56px">1.17461</div>
<div class="lab" style="top:742px;background:#26a69a;color:#fff;width:56px">0.00018</div>
<div class="lab" style="top:836px;background:#2196f3;color:#fff;width:62px">−0.00084</div>
<div class="lab" style="top:853px;background:#ff4081;color:#fff;width:62px">−0.00102</div>
<div class="tl" style="left:16.5px">11</div>
<div class="tl" style="left:160.5px">12</div>
<div class="tl" style="left:304.5px">13</div>
<div class="tl" style="left:448.5px">14</div>
<div class="tl" style="left:592.5px">17</div>
<div class="tl" style="left:736.5px">18</div>
<div class="tl" style="left:880.5px">19</div>
<div class="tl" style="left:1024.5px">20</div>
<div class="tl" style="left:1168.5px">21</div>
<div style="position:absolute;left:10px;top:8px;font-size:12px;font-weight:bold;line-height:16px;color:#131722;white-space:nowrap" id="title">EURUSD 1h - 1uptick.com</div>
<div class="lg" style="top:29px;width:222px;height:24px;background:rgba(255,255,255,0.55)"><span style="position:absolute;left:5.5px;color:#131722;letter-spacing:0.00px;font-size:12px">BB</span><span style="position:absolute;left:24.5px;color:#5d606b;letter-spacing:0.00px;font-size:12px">20 2</span><span style="position:absolute;left:63.5px;color:#2196f3;letter-spacing:0.30px;font-size:12px">1.17749</span><span style="position:absolute;left:116.0px;color:#2196f3;letter-spacing:0.42px;font-size:12px">1.18037</span><span style="position:absolute;left:169.3px;color:#2196f3;letter-spacing:0.30px;font-size:12px">1.17461</span></div>
<div class="lg" style="top:53px;width:188px;height:24px;background:rgba(255,255,255,0.55)"><span style="position:absolute;left:5.5px;color:#131722;letter-spacing:-0.30px;font-size:12px">MA</span><span style="position:absolute;left:26.5px;color:#5d606b;letter-spacing:0.00px;font-size:12px">10 close 0 SMA 9</span><span style="position:absolute;left:135.7px;color:#f5b32e;letter-spacing:0.36px;font-size:12px">1.17680</span></div>
<div class="lg" style="top:77px;width:188px;height:23px;background:rgba(255,255,255,0.55)"><span style="position:absolute;left:5.5px;color:#131722;letter-spacing:-0.30px;font-size:12px">MA</span><span style="position:absolute;left:26.5px;color:#5d606b;letter-spacing:0.00px;font-size:12px">50 close 0 SMA 9</span><span style="position:absolute;left:135.7px;color:#e07b00;letter-spacing:0.36px;font-size:12px">1.17991</span></div>
<div style="position:absolute;left:9px;top:102px;width:29px;height:21px;box-sizing:border-box;border:1px solid #d8dbe3;border-radius:4px;background:rgba(255,255,255,0.85)"><svg width="27" height="18" viewBox="0 0 27 18" style="display:block"><path d="M9.5,11.5 L13.5,7.5 L17.5,11.5" fill="none" stroke="#131722" stroke-width="1.5"/></svg></div>
<div class="lg" style="top:627px;width:300px;height:24px;background:none"><span style="position:absolute;left:5.5px;color:#131722;letter-spacing:-0.50px;font-size:11.5px">MACD</span><span style="position:absolute;left:43.0px;color:#5d606b;letter-spacing:0.22px;font-size:12px">12 26 close 9</span><span style="position:absolute;left:132.2px;color:#26a69a;letter-spacing:0.34px;font-size:12px">0.00018</span><span style="position:absolute;left:185.5px;color:#2196f3;letter-spacing:0.33px;font-size:12px">−0.00084</span><span style="position:absolute;left:246.0px;color:#ff4081;letter-spacing:0.30px;font-size:12px">−0.00102</span></div>
<svg width="37" height="36" viewBox="0 0 37 36" style="position:absolute;left:5px;top:892px"><circle cx="18.4" cy="18" r="16.5" fill="#fff" stroke="#e4e4e6" stroke-width="1"/><path d="M7.96,12.8 H17 V23.8 H12.96 V16.75 H7.96 Z" fill="#131722"/><circle cx="19.96" cy="14.9" r="1.9" fill="#131722"/><path d="M24,12.8 H29.4 L25.04,23.8 H20.04 Z" fill="#131722"/></svg>
<svg width="21" height="21" viewBox="0 0 21 21" style="position:absolute;left:1237px;top:936px"><g fill="none" stroke="#131722" stroke-width="1.1"><circle cx="10.5" cy="10.5" r="4.95"/><path d="M10.50,3V5.6M10.50,15.4V18M3,10.50H5.6M15.4,10.50H18M6.96,6.96L5.34,5.34M14.04,6.96L15.66,5.34M6.96,14.04L5.34,15.66M14.04,14.04L15.66,15.66"/></g></svg>
</body></html>
